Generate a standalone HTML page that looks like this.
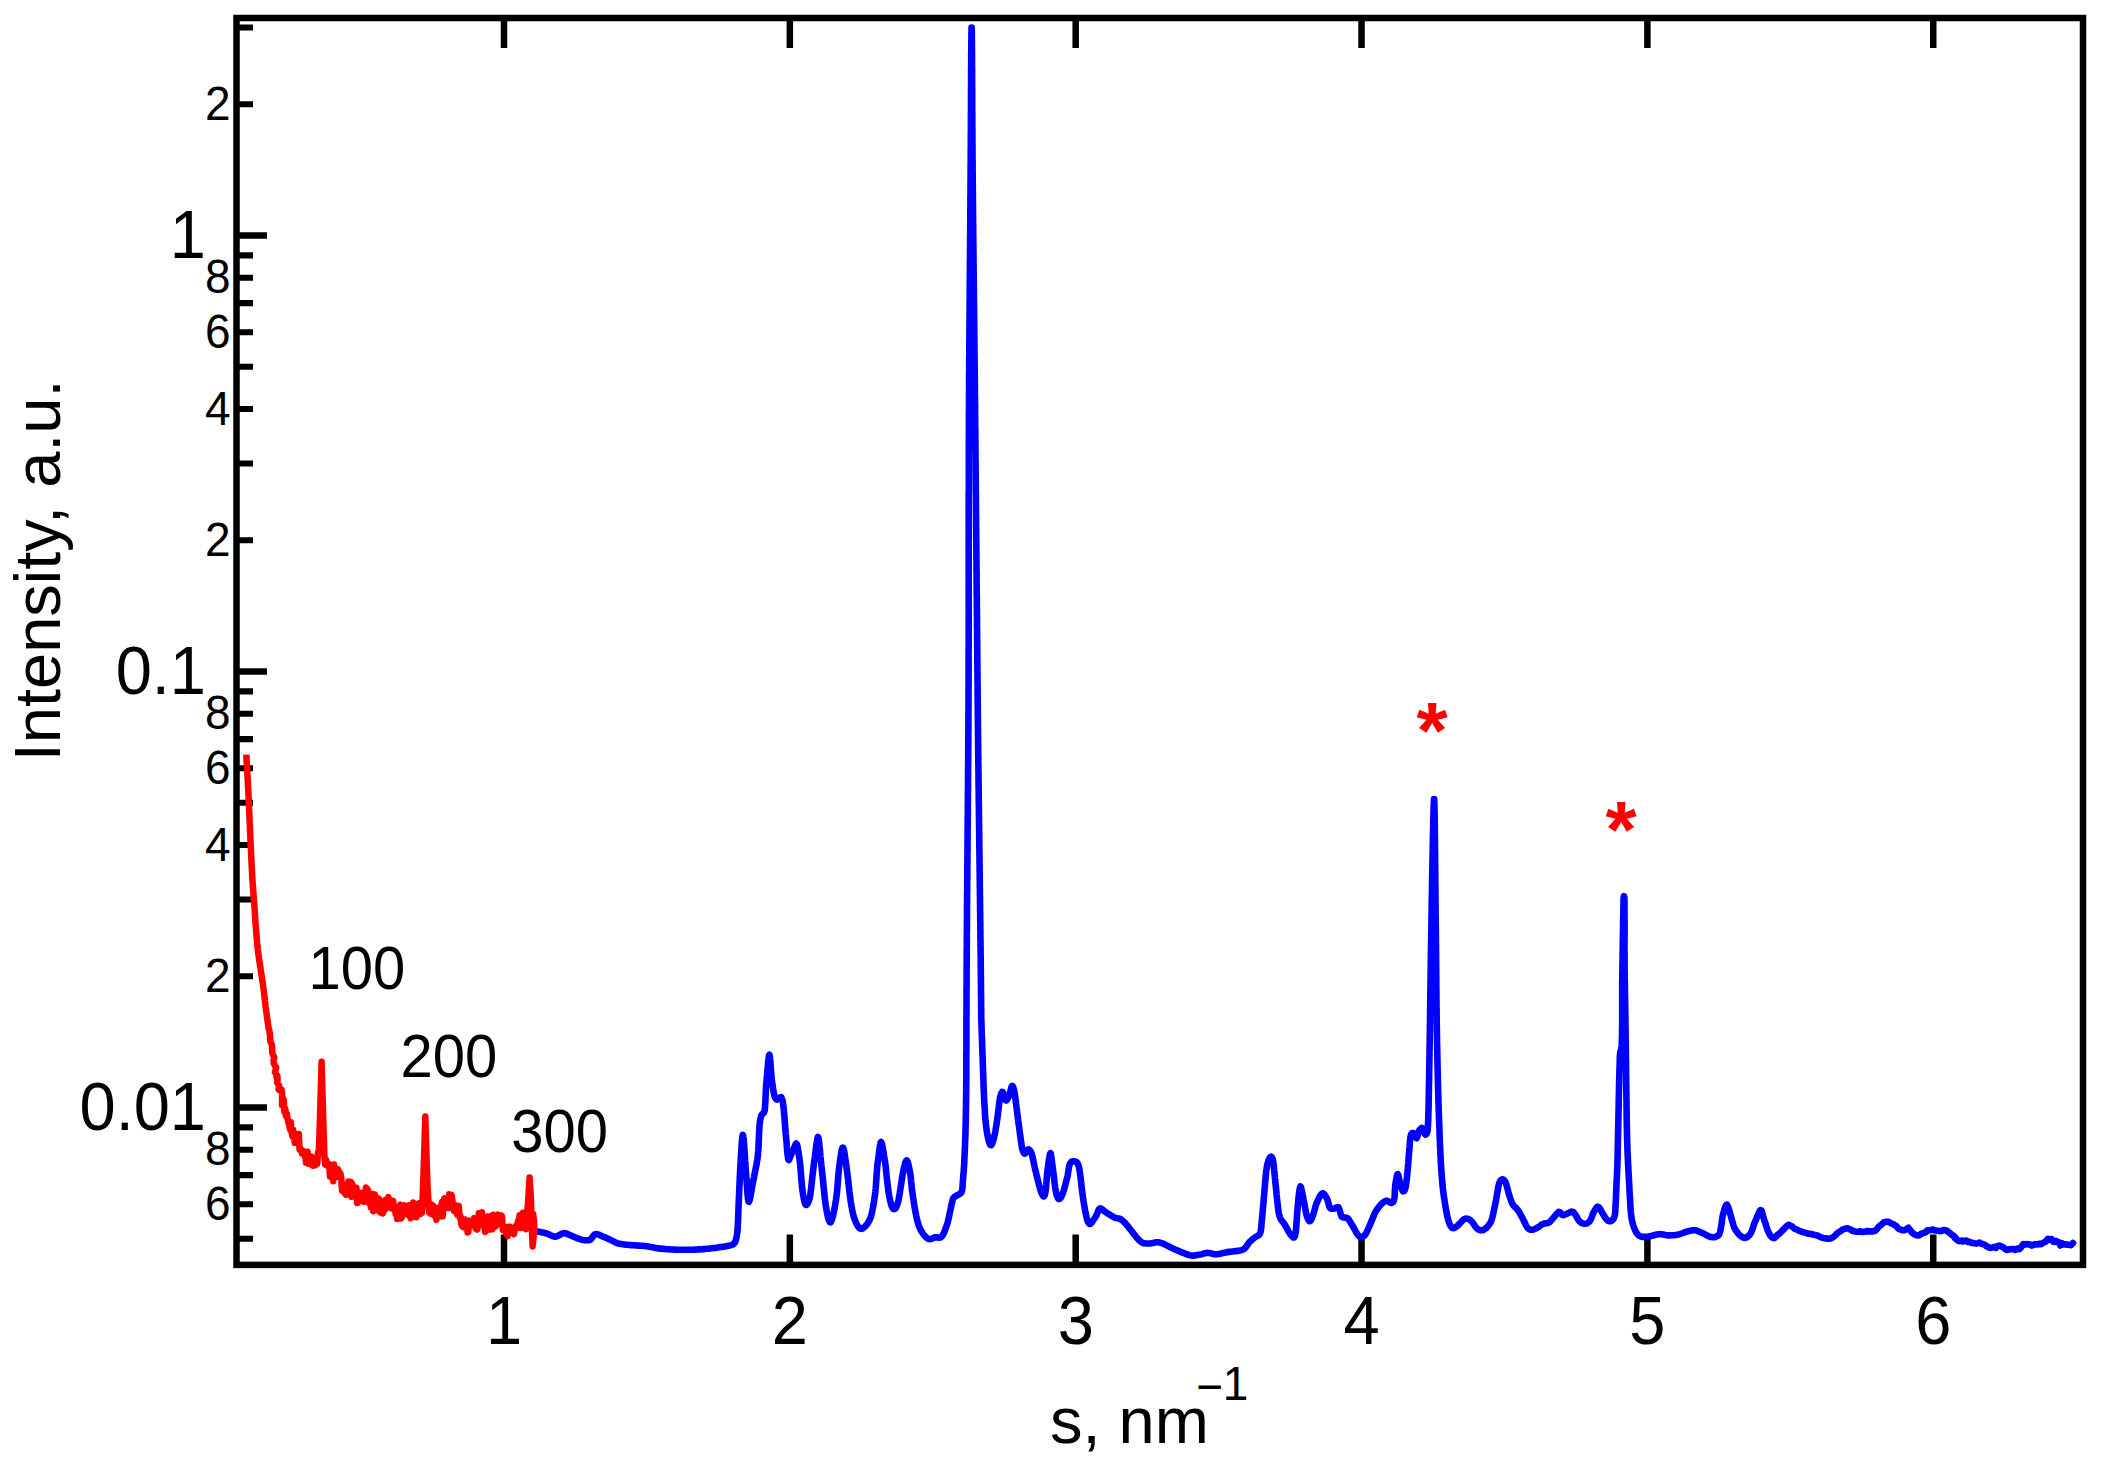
<!DOCTYPE html>
<html><head><meta charset="utf-8"><title>Intensity vs s</title>
<style>html,body{margin:0;padding:0;background:#fff}body{width:2102px;height:1462px;overflow:hidden}</style></head>
<body>
<svg width="2102" height="1462" viewBox="0 0 2102 1462" style="display:block" font-family="'Liberation Sans', Arial, sans-serif">
<rect width="2102" height="1462" fill="#fff"/>
<path d="M504.00 18 V48 M504.00 1264.9 V1234.5 M789.85 18 V48 M789.85 1264.9 V1234.5 M1075.70 18 V48 M1075.70 1264.9 V1234.5 M1361.55 18 V48 M1361.55 1264.9 V1234.5 M1647.40 18 V48 M1647.40 1264.9 V1234.5 M1933.25 18 V48 M1933.25 1264.9 V1234.5" stroke="#000" stroke-width="6.5" fill="none"/>
<path d="M236.5 104.25 H253 M236.5 27.48 H253 M236.5 540.25 H253 M236.5 463.48 H253 M236.5 409.00 H253 M236.5 366.75 H253 M236.5 332.23 H253 M236.5 303.04 H253 M236.5 277.75 H253 M236.5 255.45 H253 M236.5 976.25 H253 M236.5 899.48 H253 M236.5 845.00 H253 M236.5 802.75 H253 M236.5 768.23 H253 M236.5 739.04 H253 M236.5 713.75 H253 M236.5 691.45 H253 M236.5 1238.75 H253 M236.5 1204.23 H253 M236.5 1175.04 H253 M236.5 1149.75 H253 M236.5 1127.45 H253" stroke="#000" stroke-width="6.2" fill="none"/>
<path d="M236.5 235.50 H267 M236.5 671.50 H267 M236.5 1107.50 H267" stroke="#000" stroke-width="6.5" fill="none"/>
<path d="M534.0 1231.0L535.2 1231.2L537.1 1231.5L538.8 1231.8L540.5 1232.1L542.3 1232.4L544.0 1232.8L545.7 1233.2L547.1 1233.6L548.6 1234.2L550.0 1234.9L551.4 1235.6L552.9 1236.2L554.3 1236.6L555.8 1236.6L557.4 1236.1L559.0 1235.3L560.7 1234.3L562.4 1233.5L563.9 1233.1L565.4 1233.2L567.0 1233.8L568.4 1234.4L569.8 1235.1L571.4 1235.8L572.8 1236.4L574.2 1236.9L575.6 1237.5L577.0 1238.1L578.4 1238.6L579.9 1239.2L581.5 1239.7L583.1 1240.0L584.8 1240.2L586.5 1240.2L588.0 1240.2L589.4 1240.1L590.7 1239.4L591.9 1237.9L593.1 1236.1L594.2 1234.7L595.4 1234.1L597.0 1234.2L598.7 1234.6L600.5 1235.4L601.8 1236.0L603.2 1236.7L604.7 1237.3L606.2 1237.9L607.7 1238.6L609.1 1239.2L610.5 1239.9L611.9 1240.6L613.2 1241.2L614.5 1241.9L615.9 1242.6L617.1 1243.1L618.4 1243.5L619.8 1243.8L621.3 1244.1L622.8 1244.3L624.5 1244.5L626.2 1244.7L627.6 1244.8L629.1 1245.0L630.7 1245.1L632.3 1245.2L633.9 1245.3L635.5 1245.4L637.1 1245.5L638.8 1245.6L640.4 1245.7L641.9 1245.8L643.5 1245.9L645.0 1246.1L646.6 1246.3L648.1 1246.5L649.5 1246.8L651.0 1247.1L652.4 1247.3L653.8 1247.6L655.4 1247.9L656.9 1248.2L658.6 1248.4L660.4 1248.6L662.0 1248.8L663.6 1248.9L665.2 1249.0L666.8 1249.2L668.4 1249.3L670.0 1249.4L671.5 1249.5L673.1 1249.5L674.7 1249.6L676.3 1249.7L677.9 1249.7L679.5 1249.8L681.1 1249.8L682.7 1249.8L684.3 1249.8L685.9 1249.8L687.5 1249.8L689.1 1249.8L690.7 1249.7L692.3 1249.7L693.9 1249.7L695.4 1249.6L697.0 1249.5L698.6 1249.4L700.2 1249.4L701.8 1249.2L703.4 1249.1L705.0 1249.0L706.7 1248.8L708.4 1248.7L710.1 1248.5L711.7 1248.3L713.2 1248.1L714.7 1247.9L716.2 1247.7L717.7 1247.5L719.2 1247.3L720.6 1247.1L722.1 1246.9L723.9 1246.6L725.5 1246.4L727.1 1246.1L728.6 1245.8L730.0 1245.4L731.3 1245.1L732.4 1244.7L733.7 1243.9L734.8 1242.6L735.6 1241.0L736.1 1239.2L736.3 1238.1L736.6 1236.9L736.8 1235.7L737.0 1234.5L737.2 1233.1L737.4 1231.5L737.5 1229.7L737.7 1227.8L737.8 1225.5L737.9 1223.9L737.9 1222.4L738.0 1220.8L738.1 1219.3L738.1 1217.7L738.2 1216.2L738.2 1214.6L738.3 1213.1L738.4 1211.5L738.4 1210.0L738.5 1208.4L738.5 1206.9L738.6 1205.3L738.7 1203.7L738.7 1202.2L738.8 1200.6L738.9 1199.1L738.9 1197.5L739.0 1196.0L739.1 1194.4L739.1 1192.9L739.2 1191.3L739.3 1189.7L739.3 1188.2L739.4 1186.6L739.5 1185.1L739.6 1183.5L739.6 1181.9L739.7 1180.4L739.8 1178.8L739.8 1177.3L739.9 1175.7L740.0 1174.2L740.0 1172.6L740.1 1171.0L740.2 1169.5L740.3 1167.9L740.4 1166.4L740.4 1164.8L740.5 1163.2L740.6 1161.7L740.7 1160.1L740.8 1158.6L740.9 1157.0L741.0 1155.0L741.2 1152.8L741.3 1150.6L741.4 1148.3L741.6 1146.1L741.7 1143.9L741.9 1141.9L742.0 1140.0L742.2 1138.4L742.4 1137.0L742.5 1135.9L742.7 1135.2L742.8 1134.9L743.0 1135.0L743.1 1135.4L743.2 1135.9L743.3 1136.7L743.5 1137.6L743.6 1138.6L743.7 1139.8L743.8 1141.1L743.9 1142.6L744.1 1144.1L744.2 1145.7L744.3 1147.4L744.4 1149.2L744.5 1151.0L744.6 1152.9L744.8 1154.7L744.9 1156.7L745.0 1158.6L745.1 1160.5L745.3 1162.4L745.4 1164.2L745.5 1166.1L745.6 1167.8L745.7 1169.5L745.9 1171.1L746.0 1172.7L746.1 1174.1L746.2 1175.9L746.4 1177.8L746.5 1179.8L746.7 1181.9L746.8 1184.1L747.0 1186.3L747.1 1188.5L747.3 1190.6L747.4 1192.6L747.6 1194.6L747.7 1196.3L747.9 1197.9L748.1 1199.3L748.3 1200.4L748.5 1201.2L748.7 1201.7L748.9 1201.8L749.1 1201.5L749.4 1200.7L749.7 1199.7L750.0 1198.5L750.3 1197.0L750.6 1195.4L750.9 1193.7L751.3 1191.9L751.6 1190.0L751.9 1188.1L752.3 1186.3L752.6 1184.4L752.9 1182.7L753.2 1181.2L753.5 1179.8L753.8 1178.3L754.1 1176.8L754.3 1175.4L754.6 1173.9L754.9 1172.4L755.2 1170.9L755.5 1169.4L755.8 1168.0L756.1 1166.5L756.4 1165.0L756.7 1163.4L756.9 1161.9L757.2 1160.4L757.4 1159.2L757.6 1157.9L757.7 1156.5L757.9 1155.0L758.0 1153.5L758.1 1151.9L758.3 1150.3L758.4 1148.7L758.5 1147.0L758.6 1145.3L758.6 1143.6L758.7 1141.9L758.8 1140.2L758.9 1138.5L758.9 1136.8L759.0 1135.1L759.1 1133.5L759.1 1131.9L759.2 1130.4L759.3 1129.0L759.4 1127.6L759.5 1126.2L759.6 1125.0L759.7 1123.9L759.8 1122.8L760.1 1120.7L760.4 1119.0L760.7 1117.6L761.1 1116.3L761.5 1115.0L762.5 1113.8L763.7 1112.9L764.6 1110.8L764.7 1109.6L764.9 1108.3L765.0 1107.0L765.1 1105.6L765.2 1104.2L765.3 1102.6L765.4 1101.1L765.5 1099.5L765.5 1097.9L765.6 1096.2L765.7 1094.6L765.8 1092.9L765.8 1091.2L765.9 1089.5L766.0 1087.9L766.1 1086.2L766.2 1084.6L766.3 1083.0L766.5 1081.4L766.6 1079.9L766.8 1078.2L766.9 1076.3L767.1 1074.5L767.2 1072.6L767.4 1070.6L767.6 1068.7L767.7 1066.8L767.9 1065.0L768.1 1063.2L768.2 1061.6L768.4 1060.1L768.6 1058.7L768.7 1057.4L768.9 1056.4L769.0 1055.6L769.2 1055.0L769.4 1054.8L769.5 1055.1L769.7 1055.8L769.9 1056.9L770.0 1058.3L770.2 1060.0L770.3 1061.9L770.5 1064.0L770.7 1066.1L770.8 1068.4L771.0 1070.6L771.1 1072.8L771.3 1074.9L771.5 1076.8L771.6 1078.5L771.8 1079.9L772.0 1081.5L772.2 1083.2L772.5 1084.8L772.7 1086.4L773.0 1088.0L773.2 1089.6L773.5 1091.1L773.8 1092.6L774.0 1094.0L774.3 1095.4L775.0 1097.4L775.9 1098.8L776.9 1099.6L778.3 1099.0L780.0 1097.4L781.2 1097.1L781.6 1097.9L782.0 1098.9L782.4 1100.1L782.7 1101.5L783.0 1103.2L783.2 1105.0L783.5 1106.9L783.7 1109.1L783.8 1110.5L784.0 1112.0L784.1 1113.5L784.2 1115.0L784.4 1116.5L784.5 1118.1L784.6 1119.6L784.7 1121.2L784.9 1122.8L785.0 1124.4L785.1 1126.0L785.2 1127.6L785.3 1129.1L785.5 1130.7L785.6 1132.3L785.7 1133.8L785.9 1135.4L786.0 1136.9L786.2 1138.4L786.3 1139.9L786.5 1141.8L786.7 1144.0L786.8 1146.2L787.0 1148.6L787.2 1150.9L787.4 1153.1L787.6 1155.1L787.9 1156.9L788.1 1158.4L788.3 1159.5L788.6 1160.1L788.9 1160.1L789.2 1159.6L789.8 1158.1L790.4 1156.6L791.0 1155.0L791.6 1153.4L792.3 1151.9L793.0 1150.4L793.7 1148.8L794.3 1147.3L795.0 1145.7L795.7 1144.2L796.2 1143.6L796.7 1144.0L797.2 1145.2L797.6 1147.0L798.0 1149.3L798.4 1151.9L798.8 1154.5L799.2 1157.0L799.4 1158.4L799.6 1159.9L799.8 1161.4L800.0 1162.9L800.1 1164.4L800.3 1166.0L800.4 1167.6L800.6 1169.2L800.7 1170.8L800.8 1172.5L801.0 1174.1L801.1 1175.8L801.2 1177.4L801.3 1179.0L801.5 1180.6L801.6 1182.2L801.8 1183.8L801.9 1185.4L802.1 1186.9L802.2 1188.4L802.4 1189.9L802.6 1191.3L802.9 1193.5L803.3 1195.6L803.6 1197.7L804.0 1199.6L804.4 1201.3L804.8 1202.7L805.2 1203.9L805.6 1204.6L806.0 1205.0L806.6 1204.9L807.2 1204.2L807.9 1203.0L808.6 1201.4L809.3 1199.4L809.9 1197.2L810.3 1194.7L810.5 1193.2L810.7 1191.7L810.9 1190.1L811.1 1188.6L811.3 1187.1L811.4 1185.5L811.6 1184.0L811.8 1182.5L811.9 1180.9L812.1 1179.4L812.3 1177.9L812.4 1176.3L812.6 1174.8L812.8 1173.2L812.9 1171.7L813.1 1170.2L813.3 1168.7L813.5 1167.1L813.7 1165.6L813.9 1164.0L814.1 1162.4L814.3 1160.8L814.5 1159.1L814.8 1157.5L815.0 1155.8L815.2 1154.1L815.4 1152.5L815.6 1150.9L815.8 1149.3L816.0 1147.7L816.2 1146.2L816.4 1144.7L816.6 1143.3L816.9 1141.9L817.1 1140.6L817.3 1139.3L817.5 1138.2L817.7 1137.4L817.9 1137.0L818.1 1137.2L818.4 1137.8L818.6 1138.7L818.8 1140.0L819.0 1141.6L819.2 1143.4L819.4 1145.4L819.7 1147.6L819.9 1149.9L820.1 1152.3L820.3 1154.7L820.5 1157.1L820.8 1159.4L821.0 1161.6L821.2 1163.7L821.4 1165.6L821.6 1167.1L821.7 1168.6L821.9 1170.1L822.1 1171.6L822.2 1173.1L822.4 1174.6L822.6 1176.1L822.7 1177.7L822.9 1179.2L823.0 1180.7L823.2 1182.3L823.3 1183.8L823.5 1185.3L823.6 1186.9L823.8 1188.4L823.9 1190.0L824.1 1191.5L824.2 1193.0L824.4 1194.5L824.6 1196.1L824.7 1197.6L824.9 1199.1L825.1 1200.6L825.3 1202.1L825.5 1203.5L825.7 1205.0L826.1 1207.4L826.5 1209.8L826.9 1212.2L827.4 1214.5L827.8 1216.6L828.3 1218.5L828.9 1220.1L829.4 1221.4L829.9 1222.1L830.3 1222.4L830.8 1222.1L831.2 1221.5L831.5 1220.6L831.9 1219.6L832.3 1218.5L832.6 1217.2L833.0 1215.7L833.4 1214.2L833.7 1212.5L834.1 1210.8L834.4 1209.0L834.8 1207.2L835.1 1205.3L835.4 1203.5L835.7 1201.6L836.0 1199.8L836.2 1198.3L836.4 1196.8L836.6 1195.2L836.8 1193.7L837.0 1192.1L837.1 1190.6L837.3 1189.0L837.4 1187.4L837.5 1185.8L837.7 1184.3L837.8 1182.7L837.9 1181.1L838.0 1179.5L838.1 1178.0L838.3 1176.4L838.4 1174.8L838.5 1173.3L838.7 1171.7L838.8 1170.2L839.0 1168.6L839.2 1167.1L839.4 1165.6L839.7 1163.6L840.0 1161.5L840.2 1159.4L840.5 1157.4L840.8 1155.4L841.1 1153.6L841.4 1151.9L841.7 1150.5L841.9 1149.3L842.2 1148.4L842.5 1147.8L842.8 1147.6L843.1 1147.8L843.4 1148.4L843.7 1149.3L844.0 1150.5L844.3 1151.9L844.5 1153.6L844.8 1155.4L845.1 1157.4L845.4 1159.4L845.7 1161.5L846.0 1163.6L846.3 1165.6L846.5 1167.1L846.7 1168.6L846.9 1170.2L847.1 1171.8L847.3 1173.3L847.5 1174.9L847.7 1176.5L847.9 1178.1L848.1 1179.7L848.3 1181.3L848.4 1182.9L848.6 1184.5L848.8 1186.1L849.0 1187.7L849.2 1189.2L849.3 1190.8L849.5 1192.4L849.7 1193.9L849.9 1195.4L850.1 1196.9L850.3 1198.4L850.5 1199.8L850.7 1201.5L851.0 1203.1L851.2 1204.8L851.5 1206.4L851.8 1207.9L852.1 1209.5L852.4 1211.0L852.7 1212.5L853.0 1213.9L853.4 1215.3L853.8 1216.7L854.2 1218.1L854.7 1219.5L855.2 1220.8L855.7 1222.1L856.8 1224.4L857.9 1226.3L859.0 1227.7L860.2 1228.6L861.3 1228.9L862.6 1228.5L863.8 1227.6L865.1 1226.4L866.3 1225.1L867.4 1223.7L868.4 1222.2L869.4 1220.4L870.0 1219.1L870.5 1217.7L871.0 1216.3L871.4 1214.8L871.8 1213.2L872.1 1211.6L872.5 1210.0L872.8 1208.4L873.1 1207.0L873.3 1205.5L873.6 1204.1L873.8 1202.6L874.1 1201.1L874.3 1199.5L874.5 1198.0L874.8 1196.3L875.0 1194.7L875.2 1193.0L875.4 1191.3L875.5 1190.0L875.7 1188.6L875.8 1187.2L875.9 1185.8L876.0 1184.3L876.1 1182.7L876.2 1181.2L876.3 1179.6L876.4 1178.0L876.5 1176.4L876.6 1174.7L876.7 1173.1L876.9 1171.5L877.0 1169.8L877.1 1168.2L877.3 1166.6L877.4 1165.0L877.6 1163.4L877.8 1161.9L878.0 1160.4L878.3 1158.4L878.6 1156.2L878.9 1154.0L879.1 1151.8L879.4 1149.6L879.7 1147.6L880.0 1145.8L880.3 1144.3L880.5 1143.1L880.8 1142.4L881.1 1142.1L881.4 1142.5L881.7 1143.3L882.0 1144.3L882.2 1145.5L882.5 1146.9L882.8 1148.3L883.1 1150.0L883.4 1151.6L883.7 1153.4L883.9 1155.2L884.2 1156.9L884.5 1158.7L884.8 1160.4L885.1 1162.0L885.3 1163.6L885.5 1165.2L885.7 1166.8L885.9 1168.4L886.0 1170.0L886.2 1171.6L886.4 1173.2L886.5 1174.8L886.7 1176.4L886.8 1177.9L887.0 1179.5L887.2 1181.1L887.4 1182.7L887.6 1184.3L887.8 1186.0L888.0 1187.6L888.2 1189.2L888.4 1190.8L888.6 1192.4L888.8 1193.9L889.1 1195.5L889.4 1197.1L889.7 1198.6L890.0 1200.2L890.4 1201.7L890.8 1203.3L891.6 1205.9L892.5 1207.7L893.4 1208.9L894.3 1209.2L895.2 1208.7L896.0 1207.6L896.9 1205.7L897.7 1203.3L898.1 1201.8L898.5 1200.2L898.8 1198.6L899.1 1197.0L899.4 1195.4L899.7 1193.8L899.9 1192.2L900.1 1190.6L900.4 1189.0L900.6 1187.4L900.9 1185.9L901.1 1184.4L901.4 1182.8L901.6 1181.2L901.8 1179.7L902.1 1178.1L902.3 1176.6L902.5 1175.1L902.8 1173.5L903.1 1172.0L903.4 1170.5L903.7 1169.0L904.2 1167.0L904.7 1165.1L905.1 1163.4L905.6 1161.9L906.1 1160.9L906.6 1160.4L907.1 1160.6L907.5 1161.5L908.0 1162.8L908.4 1164.5L908.9 1166.5L909.3 1168.6L909.7 1170.7L910.0 1172.3L910.2 1173.9L910.5 1175.5L910.7 1177.1L910.9 1178.7L911.0 1180.3L911.2 1182.0L911.3 1183.6L911.5 1185.2L911.7 1186.7L911.8 1188.3L912.0 1189.8L912.2 1191.3L912.4 1192.9L912.7 1194.4L912.9 1196.0L913.1 1197.6L913.4 1199.1L913.6 1200.7L913.8 1202.2L914.1 1203.8L914.3 1205.3L914.6 1206.9L914.8 1208.4L915.1 1210.0L915.4 1211.6L915.7 1213.1L916.0 1214.7L916.3 1216.2L916.7 1217.8L917.0 1219.3L917.4 1220.8L917.8 1222.3L918.2 1223.8L918.7 1225.5L919.4 1227.2L920.0 1228.7L920.8 1230.1L921.6 1231.4L922.5 1232.8L923.4 1234.1L924.5 1235.6L925.7 1236.9L926.9 1238.0L928.1 1238.8L929.4 1239.2L930.9 1239.0L932.4 1238.4L933.9 1237.7L935.4 1237.2L937.2 1237.4L938.9 1237.8L940.5 1237.5L941.6 1236.6L942.6 1235.4L943.4 1234.0L944.1 1232.4L944.8 1230.7L945.3 1229.3L945.9 1227.8L946.4 1226.4L946.9 1224.9L947.4 1223.5L947.8 1222.0L948.2 1220.4L948.5 1218.9L948.9 1217.4L949.2 1215.9L949.5 1214.4L949.8 1212.9L950.1 1211.4L950.5 1209.9L950.8 1208.4L951.1 1206.8L951.5 1205.1L951.8 1203.4L952.2 1201.8L952.5 1200.4L952.9 1199.1L953.3 1198.1L954.8 1196.6L956.8 1195.5L958.3 1194.7L959.8 1193.9L961.0 1193.0L961.6 1192.1L962.0 1190.8L962.3 1189.2L962.5 1187.2L962.6 1185.1L962.8 1182.7L962.9 1181.3L963.0 1180.0L963.1 1178.6L963.2 1177.2L963.3 1175.8L963.4 1174.3L963.6 1172.9L963.7 1171.4L963.8 1169.9L963.9 1168.4L964.0 1166.9L964.1 1165.3L964.2 1163.7L964.3 1162.1L964.3 1160.4L964.4 1158.7L964.5 1157.0L964.6 1155.4L964.6 1153.9L964.7 1152.3L964.8 1150.8L964.8 1149.2L964.9 1147.7L965.0 1146.1L965.0 1144.6L965.1 1143.0L965.1 1141.5L965.2 1139.9L965.3 1138.3L965.3 1136.8L965.4 1135.2L965.4 1133.7L965.5 1132.1L965.5 1130.6L965.5 1129.0L965.6 1127.5L965.6 1125.9L965.7 1124.4L965.7 1122.8L965.7 1121.2L965.8 1119.7L965.8 1118.1L965.8 1116.6L965.8 1115.0L965.9 1113.5L965.9 1111.9L965.9 1110.3L966.0 1108.8L966.0 1107.2L966.0 1105.7L966.0 1104.1L966.0 1102.5L966.1 1101.0L966.1 1099.4L966.1 1097.9L966.1 1096.3L966.1 1094.7L966.2 1093.2L966.2 1091.6L966.2 1090.1L966.2 1088.5L966.2 1087.6L966.2 1086.6L966.2 1085.7L966.2 1084.8L966.2 1083.9L966.2 1082.9L966.3 1082.0L966.3 1081.1L966.3 1080.1L966.3 1079.2L966.3 1078.2L966.3 1077.3L966.3 1076.3L966.3 1075.3L966.3 1074.3L966.3 1073.3L966.3 1072.3L966.3 1071.2L966.3 1070.2L966.3 1069.1L966.3 1068.0L966.3 1066.9L966.3 1065.7L966.3 1064.6L966.3 1063.4L966.3 1062.2L966.3 1060.9L966.3 1059.7L966.3 1058.4L966.3 1057.1L966.3 1055.7L966.3 1054.3L966.3 1052.9L966.4 1051.4L966.4 1049.9L966.4 1048.4L966.4 1046.8L966.4 1045.2L966.4 1043.6L966.4 1041.9L966.4 1040.1L966.4 1038.3L966.4 1036.5L966.4 1034.6L966.4 1032.7L966.4 1030.7L966.4 1028.7L966.4 1026.6L966.4 1024.5L966.4 1022.3L966.4 1020.1L966.4 1017.8L966.4 1015.4L966.5 1013.0L966.5 1010.5L966.5 1008.0L966.5 1005.4L966.5 1002.7L966.5 1000.0L966.5 998.5L966.5 997.0L966.5 995.5L966.5 994.0L966.5 992.5L966.5 991.0L966.5 989.5L966.5 988.0L966.6 986.5L966.6 985.0L966.6 983.5L966.6 982.0L966.6 980.5L966.6 979.0L966.6 977.5L966.6 976.0L966.6 974.5L966.6 973.0L966.6 971.5L966.6 970.0L966.6 968.5L966.6 967.0L966.7 965.5L966.7 964.0L966.7 962.5L966.7 961.0L966.7 959.5L966.7 958.0L966.7 956.5L966.7 955.0L966.7 953.5L966.7 952.0L966.7 950.5L966.8 949.0L966.8 947.5L966.8 946.0L966.8 944.5L966.8 943.0L966.8 941.5L966.8 940.0L966.8 938.5L966.8 937.0L966.8 935.5L966.8 934.0L966.9 932.5L966.9 931.0L966.9 929.5L966.9 928.0L966.9 926.5L966.9 925.0L966.9 923.5L966.9 922.0L966.9 920.5L967.0 919.0L967.0 917.5L967.0 916.0L967.0 914.5L967.0 913.0L967.0 911.5L967.0 910.0L967.0 908.5L967.0 907.0L967.0 905.5L967.1 904.0L967.1 902.5L967.1 901.0L967.1 899.5L967.1 898.0L967.1 896.5L967.1 895.0L967.1 893.5L967.1 892.0L967.2 890.5L967.2 889.0L967.2 887.5L967.2 886.0L967.2 884.5L967.2 883.0L967.2 881.5L967.2 880.0L967.3 878.5L967.3 877.0L967.3 875.5L967.3 874.0L967.3 872.5L967.3 871.0L967.3 869.5L967.3 868.0L967.3 866.5L967.4 865.0L967.4 863.5L967.4 862.0L967.4 860.5L967.4 859.0L967.4 857.5L967.4 856.0L967.4 854.5L967.5 853.0L967.5 851.5L967.5 850.0L967.5 848.5L967.5 847.0L967.5 845.5L967.5 844.0L967.5 842.5L967.6 841.0L967.6 839.5L967.6 838.0L967.6 836.5L967.6 835.0L967.6 833.5L967.6 832.0L967.6 830.5L967.6 829.0L967.7 827.5L967.7 826.0L967.7 824.5L967.7 823.0L967.7 821.5L967.7 820.0L967.7 818.5L967.7 817.0L967.8 815.5L967.8 814.0L967.8 812.5L967.8 811.0L967.8 809.5L967.8 808.0L967.8 806.5L967.8 805.0L967.8 803.5L967.9 802.0L967.9 800.5L967.9 799.0L967.9 797.5L967.9 796.0L967.9 794.5L967.9 793.0L967.9 791.5L968.0 790.0L968.0 788.5L968.0 787.0L968.0 785.5L968.0 784.0L968.0 782.5L968.0 781.0L968.0 779.5L968.0 778.0L968.1 776.5L968.1 775.0L968.1 773.5L968.1 772.0L968.1 770.5L968.1 769.0L968.1 767.5L968.1 766.0L968.1 764.5L968.1 763.0L968.2 761.5L968.2 760.0L968.2 758.5L968.2 757.0L968.2 755.5L968.2 754.0L968.2 752.5L968.2 751.0L968.2 749.5L968.2 748.0L968.3 746.5L968.3 745.0L968.3 743.5L968.3 742.0L968.3 740.5L968.3 739.0L968.3 737.5L968.3 736.0L968.3 734.5L968.3 733.0L968.3 731.5L968.4 730.0L968.4 728.5L968.4 727.0L968.4 725.5L968.4 724.0L968.4 722.5L968.4 721.0L968.4 719.5L968.4 718.0L968.4 716.5L968.4 715.0L968.4 713.5L968.4 712.0L968.5 710.5L968.5 709.0L968.5 707.5L968.5 706.0L968.5 704.5L968.5 703.0L968.5 701.5L968.5 700.0L968.5 698.5L968.5 697.0L968.5 695.5L968.5 694.0L968.5 692.5L968.5 691.0L968.5 689.5L968.5 688.0L968.6 686.5L968.6 685.0L968.6 683.5L968.6 682.0L968.6 680.5L968.6 679.0L968.6 677.5L968.6 676.0L968.6 674.5L968.6 673.0L968.6 671.5L968.6 670.0L968.6 668.5L968.6 667.0L968.6 665.5L968.6 664.0L968.6 662.5L968.6 661.0L968.6 659.5L968.6 658.0L968.6 656.5L968.6 655.0L968.6 653.5L968.6 652.0L968.6 650.5L968.7 649.0L968.7 647.5L968.7 646.0L968.7 644.5L968.7 643.0L968.7 641.5L968.7 640.0L968.7 638.5L968.7 637.0L968.7 635.5L968.7 634.0L968.7 632.5L968.7 631.0L968.7 629.5L968.7 628.0L968.7 626.5L968.7 625.0L968.7 623.5L968.7 622.0L968.7 620.5L968.7 619.0L968.7 617.5L968.7 616.0L968.7 614.5L968.7 613.0L968.7 611.5L968.7 610.0L968.7 608.5L968.7 607.0L968.7 605.5L968.7 604.0L968.7 602.5L968.7 601.0L968.7 599.5L968.7 598.0L968.7 596.5L968.7 595.0L968.7 593.5L968.7 592.0L968.7 590.5L968.7 589.0L968.7 587.5L968.7 586.0L968.7 584.5L968.7 583.0L968.7 581.5L968.7 580.0L968.7 578.5L968.7 577.0L968.7 575.5L968.7 574.0L968.7 572.5L968.7 571.0L968.7 569.5L968.7 568.0L968.7 566.5L968.7 565.0L968.7 563.5L968.7 562.0L968.7 560.5L968.7 559.0L968.7 557.5L968.7 556.0L968.7 554.5L968.7 553.0L968.7 551.5L968.7 550.0L968.7 548.5L968.7 547.0L968.7 545.5L968.7 544.0L968.7 542.5L968.7 541.0L968.7 539.5L968.7 538.0L968.7 536.5L968.7 535.0L968.7 533.5L968.7 532.0L968.7 530.5L968.7 529.0L968.7 527.5L968.7 526.0L968.7 524.5L968.7 523.0L968.7 521.5L968.7 520.0L968.7 518.5L968.7 517.0L968.7 515.5L968.7 514.0L968.7 512.5L968.7 511.0L968.7 509.5L968.7 508.0L968.7 506.5L968.7 505.0L968.7 503.5L968.7 502.0L968.7 500.5L968.7 499.0L968.7 497.5L968.7 496.0L968.7 494.5L968.7 493.0L968.8 491.5L968.8 490.0L968.8 488.5L968.8 487.0L968.8 485.5L968.8 484.0L968.8 482.5L968.8 481.0L968.8 479.5L968.8 478.0L968.8 476.5L968.8 475.0L968.8 473.5L968.8 472.0L968.8 470.5L968.8 469.0L968.8 467.5L968.8 466.0L968.8 464.5L968.8 463.0L968.8 461.5L968.8 460.0L968.8 458.5L968.8 457.0L968.8 455.5L968.8 454.0L968.8 452.5L968.8 451.0L968.8 449.5L968.8 448.0L968.8 446.5L968.8 445.0L968.8 443.5L968.8 442.0L968.8 440.5L968.8 439.0L968.9 437.5L968.9 436.0L968.9 434.5L968.9 433.0L968.9 431.5L968.9 430.0L968.9 428.5L968.9 427.0L968.9 425.5L968.9 424.0L968.9 422.5L968.9 421.0L968.9 419.5L968.9 418.0L968.9 416.5L968.9 415.0L968.9 413.5L968.9 412.0L969.0 410.5L969.0 409.0L969.0 407.5L969.0 406.0L969.0 404.5L969.0 403.0L969.0 401.5L969.0 400.0L969.0 398.5L969.0 397.0L969.0 395.5L969.0 394.0L969.0 392.5L969.0 391.0L969.1 389.5L969.1 388.0L969.1 386.5L969.1 385.0L969.1 383.5L969.1 382.0L969.1 380.5L969.1 379.0L969.1 377.5L969.1 376.0L969.1 374.5L969.1 373.0L969.2 371.5L969.2 370.0L969.2 368.5L969.2 367.0L969.2 365.5L969.2 364.0L969.2 362.5L969.2 361.0L969.2 359.5L969.2 358.0L969.2 356.5L969.3 355.0L969.3 353.5L969.3 352.0L969.3 350.5L969.3 349.0L969.3 347.5L969.3 346.0L969.3 344.5L969.3 343.0L969.3 341.5L969.4 340.0L969.4 338.5L969.4 337.0L969.4 335.5L969.4 334.0L969.4 332.5L969.4 331.0L969.4 329.5L969.4 328.0L969.5 326.5L969.5 325.0L969.5 323.5L969.5 322.0L969.5 320.5L969.5 319.0L969.5 317.5L969.5 316.0L969.5 314.5L969.6 313.0L969.6 311.5L969.6 310.0L969.6 308.5L969.6 307.0L969.6 305.5L969.6 304.0L969.6 302.5L969.6 301.0L969.7 299.5L969.7 298.0L969.7 296.5L969.7 295.0L969.7 293.5L969.7 292.0L969.7 290.5L969.7 289.0L969.7 287.5L969.8 286.0L969.8 284.5L969.8 283.0L969.8 281.5L969.8 280.0L969.8 278.5L969.8 277.0L969.8 275.5L969.8 274.0L969.9 272.5L969.9 271.0L969.9 269.5L969.9 268.0L969.9 266.5L969.9 265.0L969.9 263.5L969.9 262.0L970.0 260.5L970.0 259.0L970.0 257.5L970.0 256.0L970.0 254.5L970.0 253.0L970.0 251.5L970.0 250.0L970.0 248.5L970.1 247.0L970.1 245.5L970.1 244.0L970.1 242.5L970.1 241.0L970.1 239.5L970.1 238.0L970.1 236.5L970.1 235.0L970.2 233.5L970.2 232.0L970.2 230.5L970.2 229.0L970.2 227.5L970.2 226.0L970.2 224.5L970.2 223.0L970.3 221.5L970.3 220.0L970.3 218.5L970.3 217.0L970.3 215.5L970.3 214.0L970.3 212.5L970.3 211.0L970.3 209.5L970.4 208.0L970.4 206.5L970.4 205.0L970.4 203.5L970.4 202.0L970.4 200.5L970.4 199.0L970.4 197.5L970.4 196.0L970.5 194.5L970.5 193.0L970.5 191.5L970.5 190.0L970.5 188.5L970.5 187.0L970.5 185.5L970.5 184.0L970.5 182.5L970.5 181.0L970.6 179.5L970.6 178.0L970.6 176.5L970.6 175.0L970.6 173.5L970.6 172.0L970.6 170.5L970.6 169.0L970.6 167.5L970.6 166.0L970.7 164.5L970.7 163.0L970.7 161.5L970.7 160.0L970.7 158.5L970.7 157.0L970.7 155.5L970.7 154.0L970.7 152.5L970.7 151.0L970.7 149.5L970.8 148.0L970.8 146.5L970.8 145.0L970.8 143.5L970.8 142.0L970.8 140.5L970.8 139.0L970.8 137.5L970.8 136.0L970.8 134.5L970.8 133.0L970.9 131.5L970.9 130.0L970.9 128.5L970.9 127.0L970.9 125.5L970.9 124.0L970.9 122.5L970.9 121.0L970.9 119.5L970.9 118.0L970.9 116.5L970.9 115.0L970.9 113.5L970.9 112.0L971.0 110.5L971.0 109.0L971.0 107.5L971.0 106.0L971.0 104.5L971.0 103.0L971.0 101.5L971.0 100.0L971.0 97.0L971.0 94.0L971.0 91.1L971.0 88.2L971.1 85.5L971.1 82.8L971.1 80.1L971.1 77.6L971.1 75.1L971.1 72.6L971.1 70.2L971.1 67.9L971.2 65.7L971.2 63.5L971.2 61.4L971.2 59.4L971.2 57.4L971.2 55.5L971.2 53.6L971.2 51.8L971.3 50.1L971.3 48.4L971.3 46.8L971.3 45.3L971.3 43.8L971.3 42.4L971.3 41.1L971.4 39.8L971.4 38.6L971.4 37.5L971.4 36.4L971.4 35.4L971.4 34.4L971.4 33.5L971.4 32.7L971.5 31.9L971.5 31.2L971.5 30.6L971.5 30.0L971.5 29.5L971.5 29.0L971.5 28.6L971.5 28.3L971.6 28.0L971.6 27.8L971.6 27.6L971.6 27.5L971.6 27.5L971.6 27.5L971.6 27.6L971.6 27.8L971.6 28.0L971.7 28.3L971.7 28.6L971.7 29.0L971.7 29.5L971.7 30.0L971.7 30.6L971.7 31.2L971.8 31.9L971.8 32.7L971.8 33.5L971.8 34.4L971.8 35.4L971.8 36.4L971.8 37.5L971.8 38.6L971.9 39.8L971.9 41.1L971.9 42.4L971.9 43.8L971.9 45.3L971.9 46.8L971.9 48.4L971.9 50.1L972.0 51.8L972.0 53.6L972.0 55.5L972.0 57.4L972.0 59.4L972.0 61.4L972.0 63.5L972.0 65.7L972.1 67.9L972.1 70.2L972.1 72.6L972.1 75.1L972.1 77.6L972.1 80.1L972.1 82.8L972.1 85.5L972.2 88.2L972.2 91.1L972.2 94.0L972.2 97.0L972.2 100.0L972.2 101.5L972.2 103.0L972.2 104.5L972.2 106.0L972.2 107.5L972.2 109.0L972.2 110.5L972.3 112.0L972.3 113.5L972.3 115.0L972.3 116.5L972.3 118.0L972.3 119.5L972.3 121.0L972.3 122.5L972.3 124.0L972.3 125.5L972.3 127.0L972.3 128.5L972.4 130.0L972.4 131.5L972.4 133.0L972.4 134.5L972.4 136.0L972.4 137.5L972.4 139.0L972.4 140.5L972.4 142.0L972.4 143.5L972.5 145.0L972.5 146.5L972.5 148.0L972.5 149.5L972.5 151.0L972.5 152.5L972.5 154.0L972.5 155.5L972.5 157.0L972.5 158.5L972.6 160.0L972.6 161.5L972.6 163.0L972.6 164.5L972.6 166.0L972.6 167.5L972.6 169.0L972.6 170.5L972.7 172.0L972.7 173.5L972.7 175.0L972.7 176.5L972.7 178.0L972.7 179.5L972.7 181.0L972.7 182.5L972.8 184.0L972.8 185.5L972.8 187.0L972.8 188.5L972.8 190.0L972.8 191.5L972.8 193.0L972.9 194.5L972.9 196.0L972.9 197.5L972.9 199.0L972.9 200.5L972.9 202.0L972.9 203.5L973.0 205.0L973.0 206.5L973.0 208.0L973.0 209.5L973.0 211.0L973.0 212.5L973.0 214.0L973.1 215.5L973.1 217.0L973.1 218.5L973.1 220.0L973.1 221.5L973.1 223.0L973.1 224.5L973.2 226.0L973.2 227.5L973.2 229.0L973.2 230.5L973.2 232.0L973.2 233.5L973.3 235.0L973.3 236.5L973.3 238.0L973.3 239.5L973.3 241.0L973.3 242.5L973.3 244.0L973.4 245.5L973.4 247.0L973.4 248.5L973.4 250.0L973.4 251.5L973.4 253.0L973.5 254.5L973.5 256.0L973.5 257.5L973.5 259.0L973.5 260.5L973.5 262.0L973.6 263.5L973.6 265.0L973.6 266.5L973.6 268.0L973.6 269.5L973.6 271.0L973.7 272.5L973.7 274.0L973.7 275.5L973.7 277.0L973.7 278.5L973.7 280.0L973.8 281.5L973.8 283.0L973.8 284.5L973.8 286.0L973.8 287.5L973.8 289.0L973.9 290.5L973.9 292.0L973.9 293.5L973.9 295.0L973.9 296.5L973.9 298.0L974.0 299.5L974.0 301.0L974.0 302.5L974.0 304.0L974.0 305.5L974.0 307.0L974.1 308.5L974.1 310.0L974.1 311.5L974.1 313.0L974.1 314.5L974.1 316.0L974.2 317.5L974.2 319.0L974.2 320.5L974.2 322.0L974.2 323.5L974.2 325.0L974.3 326.5L974.3 328.0L974.3 329.5L974.3 331.0L974.3 332.5L974.3 334.0L974.3 335.5L974.4 337.0L974.4 338.5L974.4 340.0L974.4 341.5L974.4 343.0L974.4 344.5L974.5 346.0L974.5 347.5L974.5 349.0L974.5 350.5L974.5 352.0L974.5 353.5L974.6 355.0L974.6 356.5L974.6 358.0L974.6 359.5L974.6 361.0L974.6 362.5L974.7 364.0L974.7 365.5L974.7 367.0L974.7 368.5L974.7 370.0L974.7 371.5L974.7 373.0L974.8 374.5L974.8 376.0L974.8 377.5L974.8 379.0L974.8 380.5L974.8 382.0L974.8 383.5L974.9 385.0L974.9 386.5L974.9 388.0L974.9 389.5L974.9 391.0L974.9 392.5L974.9 394.0L975.0 395.5L975.0 397.0L975.0 398.5L975.0 400.0L975.0 401.5L975.0 403.0L975.0 404.5L975.1 406.0L975.1 407.5L975.1 409.0L975.1 410.5L975.1 412.0L975.1 413.5L975.1 415.0L975.1 416.5L975.2 418.0L975.2 419.5L975.2 421.0L975.2 422.5L975.2 424.0L975.2 425.5L975.2 427.0L975.3 428.5L975.3 430.0L975.3 431.5L975.3 433.0L975.3 434.5L975.3 436.0L975.3 437.5L975.4 439.0L975.4 440.5L975.4 442.0L975.4 443.5L975.4 445.0L975.4 446.5L975.4 448.0L975.4 449.5L975.5 451.0L975.5 452.5L975.5 454.0L975.5 455.5L975.5 457.0L975.5 458.5L975.5 460.0L975.6 461.5L975.6 463.0L975.6 464.5L975.6 466.0L975.6 467.5L975.6 469.0L975.6 470.5L975.7 472.0L975.7 473.5L975.7 475.0L975.7 476.5L975.7 478.0L975.7 479.5L975.7 481.0L975.7 482.5L975.8 484.0L975.8 485.5L975.8 487.0L975.8 488.5L975.8 490.0L975.8 491.5L975.8 493.0L975.9 494.5L975.9 496.0L975.9 497.5L975.9 499.0L975.9 500.5L975.9 502.0L975.9 503.5L975.9 505.0L976.0 506.5L976.0 508.0L976.0 509.5L976.0 511.0L976.0 512.5L976.0 514.0L976.0 515.5L976.1 517.0L976.1 518.5L976.1 520.0L976.1 521.5L976.1 523.0L976.1 524.5L976.1 526.0L976.1 527.5L976.2 529.0L976.2 530.5L976.2 532.0L976.2 533.5L976.2 535.0L976.2 536.5L976.2 538.0L976.3 539.5L976.3 541.0L976.3 542.5L976.3 544.0L976.3 545.5L976.3 547.0L976.3 548.5L976.4 550.0L976.4 551.5L976.4 553.0L976.4 554.5L976.4 556.0L976.4 557.5L976.4 559.0L976.4 560.5L976.5 562.0L976.5 563.5L976.5 565.0L976.5 566.5L976.5 568.0L976.5 569.5L976.5 571.0L976.6 572.5L976.6 574.0L976.6 575.5L976.6 577.0L976.6 578.5L976.6 580.0L976.6 581.5L976.6 583.0L976.7 584.5L976.7 586.0L976.7 587.5L976.7 589.0L976.7 590.5L976.7 592.0L976.7 593.5L976.8 595.0L976.8 596.5L976.8 598.0L976.8 599.5L976.8 601.0L976.8 602.5L976.8 604.0L976.8 605.5L976.9 607.0L976.9 608.5L976.9 610.0L976.9 611.5L976.9 613.0L976.9 614.5L976.9 616.0L977.0 617.5L977.0 619.0L977.0 620.5L977.0 622.0L977.0 623.5L977.0 625.0L977.0 626.5L977.0 628.0L977.1 629.5L977.1 631.0L977.1 632.5L977.1 634.0L977.1 635.5L977.1 637.0L977.1 638.5L977.2 640.0L977.2 641.5L977.2 643.0L977.2 644.5L977.2 646.0L977.2 647.5L977.2 649.0L977.3 650.5L977.3 652.0L977.3 653.5L977.3 655.0L977.3 656.5L977.3 658.0L977.3 659.5L977.3 661.0L977.4 662.5L977.4 664.0L977.4 665.5L977.4 667.0L977.4 668.5L977.4 670.0L977.4 671.5L977.5 673.0L977.5 674.5L977.5 676.0L977.5 677.5L977.5 679.0L977.5 680.5L977.5 682.0L977.6 683.5L977.6 685.0L977.6 686.5L977.6 688.0L977.6 689.5L977.6 691.0L977.6 692.5L977.6 694.0L977.7 695.5L977.7 697.0L977.7 698.5L977.7 700.0L977.7 701.5L977.7 703.0L977.7 704.5L977.8 706.0L977.8 707.5L977.8 709.0L977.8 710.5L977.8 712.0L977.8 713.5L977.8 715.0L977.9 716.5L977.9 718.0L977.9 719.5L977.9 721.0L977.9 722.5L977.9 724.0L977.9 725.5L978.0 727.0L978.0 728.5L978.0 730.0L978.0 731.5L978.0 733.0L978.0 734.5L978.1 736.0L978.1 737.5L978.1 739.0L978.1 740.5L978.1 742.0L978.1 743.5L978.1 745.0L978.2 746.5L978.2 748.0L978.2 749.5L978.2 751.0L978.2 752.5L978.2 754.0L978.3 755.5L978.3 757.0L978.3 758.5L978.3 760.0L978.3 761.5L978.3 763.0L978.4 764.5L978.4 766.0L978.4 767.5L978.4 769.0L978.4 770.5L978.4 772.0L978.5 773.5L978.5 775.0L978.5 776.5L978.5 778.0L978.5 779.5L978.5 781.0L978.6 782.5L978.6 784.0L978.6 785.5L978.6 787.0L978.6 788.5L978.7 790.0L978.7 791.5L978.7 793.0L978.7 794.5L978.7 796.0L978.7 797.5L978.8 799.0L978.8 800.5L978.8 802.0L978.8 803.5L978.8 805.0L978.9 806.5L978.9 808.0L978.9 809.5L978.9 811.0L978.9 812.5L978.9 814.0L979.0 815.5L979.0 817.0L979.0 818.5L979.0 820.0L979.0 821.5L979.1 823.0L979.1 824.5L979.1 826.0L979.1 827.5L979.1 829.0L979.1 830.5L979.2 832.0L979.2 833.5L979.2 835.0L979.2 836.5L979.2 838.0L979.3 839.5L979.3 841.0L979.3 842.5L979.3 844.0L979.3 845.5L979.3 847.0L979.4 848.5L979.4 850.0L979.4 851.5L979.4 853.0L979.4 854.5L979.5 856.0L979.5 857.5L979.5 859.0L979.5 860.5L979.5 862.0L979.5 863.5L979.6 865.0L979.6 866.5L979.6 868.0L979.6 869.5L979.6 871.0L979.7 872.5L979.7 874.0L979.7 875.5L979.7 877.0L979.7 878.5L979.8 880.0L979.8 881.5L979.8 883.0L979.8 884.5L979.8 886.0L979.8 887.5L979.9 889.0L979.9 890.5L979.9 892.0L979.9 893.5L979.9 895.0L980.0 896.5L980.0 898.0L980.0 899.5L980.0 901.0L980.0 902.5L980.0 904.0L980.1 905.5L980.1 907.0L980.1 908.5L980.1 910.0L980.1 911.5L980.2 913.0L980.2 914.5L980.2 916.0L980.2 917.5L980.2 919.0L980.2 920.5L980.3 922.0L980.3 923.5L980.3 925.0L980.3 926.5L980.3 928.0L980.3 929.5L980.4 931.0L980.4 932.5L980.4 934.0L980.4 935.5L980.4 937.0L980.4 938.5L980.5 940.0L980.5 941.5L980.5 943.0L980.5 944.5L980.5 946.0L980.6 947.5L980.6 949.0L980.6 950.5L980.6 952.0L980.6 953.5L980.6 955.0L980.7 956.5L980.7 958.0L980.7 959.5L980.7 961.0L980.7 962.5L980.7 964.0L980.7 965.5L980.8 967.0L980.8 968.5L980.8 970.0L980.8 971.5L980.8 973.0L980.8 974.5L980.9 976.0L980.9 977.5L980.9 979.0L980.9 980.5L980.9 982.0L980.9 983.5L981.0 985.0L981.0 986.5L981.0 988.0L981.0 989.5L981.0 991.0L981.0 992.5L981.0 994.0L981.1 995.5L981.1 997.0L981.1 998.5L981.1 1000.0L981.1 1005.3L981.2 1009.3L981.2 1012.2L981.2 1014.2L981.2 1015.5L981.2 1016.2L981.2 1016.5L981.2 1016.6L981.2 1016.7L981.2 1016.9L981.2 1017.4L981.2 1018.4L981.3 1020.0L981.4 1021.6L981.4 1023.1L981.5 1024.7L981.5 1026.2L981.6 1027.8L981.6 1029.4L981.7 1030.9L981.7 1032.5L981.8 1034.0L981.8 1035.6L981.9 1037.2L982.0 1038.7L982.0 1040.3L982.1 1041.8L982.1 1043.4L982.2 1044.9L982.2 1046.5L982.3 1048.1L982.3 1049.6L982.4 1051.2L982.4 1052.7L982.5 1054.3L982.6 1055.9L982.6 1057.4L982.7 1059.0L982.7 1060.5L982.8 1062.1L982.8 1063.6L982.9 1065.2L982.9 1066.7L983.0 1068.3L983.0 1069.9L983.1 1071.4L983.2 1073.0L983.2 1074.5L983.3 1076.1L983.3 1077.6L983.4 1079.2L983.4 1080.7L983.5 1082.3L983.5 1083.8L983.6 1085.4L983.6 1086.9L983.7 1088.5L983.8 1090.2L983.8 1091.9L983.9 1093.5L984.0 1095.2L984.0 1096.7L984.1 1098.3L984.2 1099.8L984.3 1101.3L984.3 1102.8L984.4 1104.3L984.5 1105.7L984.6 1107.1L984.7 1108.6L984.8 1110.0L984.8 1111.4L984.9 1112.8L985.0 1114.2L985.1 1115.9L985.2 1117.5L985.4 1119.2L985.5 1120.8L985.7 1122.3L985.8 1123.9L986.0 1125.4L986.2 1126.9L986.4 1128.4L986.6 1130.0L986.9 1131.5L987.1 1133.0L987.4 1134.9L987.8 1136.8L988.2 1138.6L988.6 1140.3L989.1 1141.8L989.5 1143.2L990.0 1144.3L990.5 1145.0L991.2 1145.1L991.9 1144.2L992.6 1142.5L993.3 1140.4L993.9 1138.2L994.2 1136.7L994.6 1135.1L994.9 1133.6L995.2 1132.1L995.5 1130.5L995.7 1129.0L996.0 1127.4L996.3 1125.8L996.5 1124.2L996.8 1122.6L997.0 1121.0L997.2 1119.5L997.4 1117.9L997.6 1116.4L997.8 1114.8L998.0 1113.2L998.2 1111.6L998.4 1110.0L998.6 1108.4L998.8 1106.8L999.0 1105.2L999.2 1103.6L999.4 1102.0L999.6 1100.5L1000.0 1098.1L1000.5 1096.0L1001.0 1094.3L1001.5 1092.9L1002.2 1091.9L1002.8 1092.1L1003.5 1093.8L1004.3 1096.2L1005.0 1098.6L1005.7 1100.3L1006.4 1100.5L1007.4 1099.1L1008.4 1097.4L1009.3 1095.4L1009.8 1093.8L1010.3 1091.9L1010.7 1089.9L1011.2 1088.1L1011.6 1086.7L1012.1 1085.9L1012.6 1086.0L1013.1 1087.0L1013.7 1088.6L1014.2 1090.7L1014.6 1093.0L1015.0 1095.4L1015.2 1097.0L1015.4 1098.5L1015.6 1100.1L1015.8 1101.7L1016.0 1103.3L1016.2 1104.9L1016.4 1106.5L1016.6 1108.1L1016.8 1109.7L1017.0 1111.2L1017.2 1112.8L1017.4 1114.4L1017.6 1115.9L1017.8 1117.5L1018.0 1119.1L1018.2 1120.7L1018.4 1122.3L1018.6 1123.8L1018.8 1125.4L1019.1 1127.0L1019.3 1128.6L1019.5 1130.1L1019.7 1131.7L1019.9 1133.2L1020.1 1134.7L1020.3 1136.4L1020.6 1138.1L1020.8 1139.6L1021.0 1141.1L1021.2 1142.5L1021.4 1143.9L1021.6 1145.3L1021.8 1146.7L1022.2 1148.8L1022.8 1150.7L1023.5 1152.3L1024.4 1153.6L1025.4 1153.4L1026.5 1151.6L1027.7 1149.8L1028.7 1149.3L1029.6 1150.2L1030.6 1151.4L1031.4 1153.1L1032.1 1155.3L1032.5 1156.8L1032.8 1158.3L1033.2 1159.9L1033.5 1161.4L1033.8 1162.9L1034.1 1164.5L1034.4 1166.0L1034.8 1167.6L1035.1 1169.1L1035.5 1170.7L1035.9 1172.2L1036.2 1173.8L1036.6 1175.3L1037.0 1176.9L1037.4 1178.4L1037.8 1180.0L1038.2 1181.6L1038.6 1183.1L1039.0 1184.7L1039.4 1186.3L1039.8 1187.8L1040.4 1189.8L1041.0 1191.7L1041.7 1193.4L1042.4 1194.8L1043.0 1195.9L1043.6 1196.4L1044.3 1196.1L1044.9 1194.6L1045.4 1192.3L1045.8 1189.5L1046.0 1188.0L1046.1 1186.4L1046.3 1184.8L1046.4 1183.3L1046.5 1181.7L1046.6 1180.1L1046.7 1178.5L1046.9 1177.0L1047.0 1175.4L1047.1 1173.8L1047.3 1172.3L1047.5 1170.7L1047.7 1169.0L1048.0 1167.3L1048.2 1165.6L1048.4 1163.8L1048.6 1162.1L1048.9 1160.4L1049.1 1158.8L1049.4 1157.3L1049.6 1155.9L1049.8 1154.7L1050.1 1153.6L1050.4 1153.1L1050.7 1153.4L1051.0 1154.5L1051.2 1156.2L1051.5 1158.3L1051.8 1160.6L1052.1 1163.0L1052.4 1165.3L1052.7 1167.3L1052.9 1168.8L1053.1 1170.4L1053.3 1172.0L1053.5 1173.6L1053.7 1175.2L1053.9 1176.8L1054.1 1178.4L1054.2 1180.0L1054.4 1181.6L1054.6 1183.2L1054.8 1184.7L1055.0 1186.3L1055.2 1187.8L1055.6 1189.9L1056.0 1192.0L1056.4 1194.0L1056.9 1195.7L1057.5 1197.2L1058.1 1198.3L1058.7 1199.0L1059.7 1198.9L1060.8 1197.6L1061.9 1195.5L1062.9 1193.0L1063.4 1191.5L1063.9 1189.9L1064.3 1188.4L1064.8 1186.8L1065.2 1185.3L1065.6 1183.7L1066.0 1182.2L1066.4 1180.6L1066.8 1179.1L1067.2 1177.6L1067.6 1176.0L1067.8 1174.5L1068.1 1172.9L1068.3 1171.4L1068.5 1169.8L1068.7 1168.3L1069.0 1166.8L1069.4 1165.4L1069.8 1163.9L1071.3 1161.8L1073.2 1161.3L1074.7 1161.3L1076.3 1161.8L1077.5 1163.0L1078.0 1164.2L1078.5 1165.5L1078.9 1166.9L1079.2 1168.4L1079.5 1170.1L1079.8 1172.0L1080.1 1174.1L1080.3 1175.7L1080.5 1177.3L1080.7 1178.8L1080.9 1180.4L1081.1 1182.0L1081.2 1183.6L1081.4 1185.2L1081.6 1186.8L1081.8 1188.4L1082.0 1190.0L1082.2 1191.5L1082.4 1193.1L1082.6 1194.7L1082.8 1196.3L1083.0 1197.9L1083.3 1199.4L1083.5 1201.0L1083.8 1202.6L1084.0 1204.2L1084.3 1205.8L1084.6 1207.3L1084.8 1208.9L1085.1 1210.5L1085.4 1212.1L1085.8 1213.6L1086.1 1215.2L1086.6 1217.5L1087.2 1219.8L1087.9 1221.8L1088.7 1223.2L1089.5 1224.0L1090.3 1223.8L1091.3 1222.8L1092.4 1221.5L1093.4 1220.1L1094.5 1218.5L1095.5 1217.0L1096.4 1215.4L1097.2 1213.4L1098.0 1211.3L1098.8 1209.6L1099.7 1208.5L1100.6 1208.4L1102.0 1209.2L1103.4 1210.3L1105.0 1211.6L1106.6 1212.7L1107.9 1213.6L1109.3 1214.4L1110.7 1215.3L1112.1 1216.2L1113.5 1217.0L1115.0 1217.7L1116.7 1218.1L1118.3 1218.4L1119.9 1218.8L1121.2 1219.5L1122.4 1220.5L1123.6 1221.5L1124.8 1222.8L1126.0 1224.1L1127.2 1225.5L1128.2 1226.7L1129.1 1227.9L1130.1 1229.2L1131.1 1230.4L1132.1 1231.6L1133.0 1232.9L1134.0 1234.1L1135.1 1235.5L1136.1 1236.8L1137.2 1238.1L1138.3 1239.4L1139.5 1240.6L1140.9 1241.8L1142.5 1242.8L1144.2 1243.3L1145.9 1243.5L1147.7 1243.5L1149.4 1243.5L1151.1 1243.3L1152.8 1243.0L1154.6 1242.6L1156.3 1242.3L1158.0 1242.3L1159.8 1242.6L1161.4 1243.0L1163.1 1243.6L1164.8 1244.4L1166.1 1245.1L1167.5 1245.8L1168.9 1246.6L1170.4 1247.3L1171.9 1248.0L1173.5 1248.8L1175.1 1249.5L1176.6 1250.1L1178.1 1250.8L1179.6 1251.4L1181.1 1252.1L1182.7 1252.7L1184.2 1253.3L1185.8 1253.9L1187.3 1254.5L1188.8 1255.0L1190.5 1255.4L1192.1 1255.6L1193.7 1255.6L1195.3 1255.4L1196.9 1255.1L1198.5 1254.8L1200.0 1254.6L1201.9 1254.2L1203.4 1253.7L1205.0 1253.2L1206.9 1252.9L1208.6 1252.9L1210.3 1253.2L1212.0 1253.7L1213.7 1254.1L1215.4 1254.3L1217.1 1254.3L1218.6 1254.1L1220.0 1253.7L1221.5 1253.4L1223.0 1253.0L1224.5 1252.7L1225.9 1252.4L1227.4 1252.1L1229.1 1251.9L1230.8 1251.7L1232.5 1251.5L1234.3 1251.3L1236.0 1251.1L1237.7 1250.9L1239.7 1250.6L1241.5 1250.1L1243.1 1249.5L1244.5 1248.6L1245.6 1247.5L1246.6 1246.1L1247.6 1244.6L1248.6 1243.1L1249.7 1241.8L1251.0 1240.7L1252.2 1239.6L1253.5 1238.5L1254.8 1237.5L1256.3 1236.6L1257.7 1235.9L1259.1 1234.9L1259.8 1233.9L1260.3 1232.7L1260.7 1231.3L1261.0 1229.7L1261.2 1228.0L1261.4 1226.1L1261.5 1224.1L1261.7 1222.1L1261.8 1220.6L1262.0 1219.0L1262.1 1217.4L1262.3 1215.9L1262.4 1214.3L1262.6 1212.7L1262.7 1211.1L1262.8 1209.5L1263.0 1207.9L1263.1 1206.3L1263.3 1204.7L1263.4 1203.1L1263.6 1201.4L1263.7 1199.8L1263.8 1198.3L1264.0 1196.9L1264.1 1195.4L1264.2 1193.8L1264.3 1192.3L1264.5 1190.8L1264.6 1189.2L1264.7 1187.7L1264.9 1186.2L1265.0 1184.6L1265.1 1183.1L1265.2 1181.6L1265.4 1180.0L1265.5 1178.5L1265.6 1177.0L1265.8 1175.6L1265.9 1174.1L1266.1 1172.2L1266.3 1170.4L1266.6 1168.7L1266.8 1167.2L1267.1 1165.7L1267.4 1164.4L1267.8 1163.0L1268.1 1161.7L1268.5 1160.4L1269.3 1158.4L1270.2 1157.1L1271.1 1156.7L1272.0 1157.4L1272.7 1159.2L1273.3 1162.1L1273.5 1163.6L1273.7 1165.2L1273.8 1166.7L1274.0 1168.2L1274.1 1169.8L1274.3 1171.4L1274.4 1173.0L1274.6 1174.6L1274.8 1176.2L1274.9 1177.8L1275.1 1179.4L1275.2 1181.0L1275.4 1182.7L1275.6 1184.2L1275.7 1185.7L1275.9 1187.2L1276.0 1188.7L1276.2 1190.2L1276.3 1191.7L1276.5 1193.3L1276.6 1194.8L1276.8 1196.4L1276.9 1197.9L1277.1 1199.4L1277.3 1200.9L1277.4 1202.4L1277.6 1203.8L1277.7 1205.3L1277.9 1206.7L1278.1 1208.6L1278.4 1210.4L1278.6 1212.1L1278.9 1213.6L1279.2 1215.0L1279.6 1216.4L1280.0 1217.6L1280.5 1218.7L1281.5 1220.3L1282.6 1221.7L1283.7 1223.1L1284.8 1224.7L1285.7 1226.2L1286.5 1227.7L1287.4 1229.3L1288.2 1230.9L1289.1 1232.4L1290.1 1234.0L1291.2 1235.4L1292.3 1236.6L1293.3 1237.5L1294.2 1237.4L1295.0 1235.9L1295.5 1233.6L1295.9 1230.7L1296.0 1229.2L1296.2 1227.6L1296.3 1226.0L1296.4 1224.4L1296.5 1222.8L1296.6 1221.2L1296.8 1219.5L1296.9 1217.9L1297.0 1216.3L1297.1 1214.6L1297.2 1213.0L1297.3 1211.5L1297.5 1209.9L1297.6 1208.4L1297.7 1206.7L1297.9 1205.1L1298.0 1203.5L1298.2 1201.9L1298.3 1200.4L1298.4 1198.8L1298.6 1197.3L1298.7 1195.8L1298.9 1194.3L1299.1 1192.8L1299.3 1191.3L1299.8 1188.4L1300.4 1186.5L1301.0 1187.0L1301.3 1188.5L1301.7 1190.0L1302.0 1191.6L1302.3 1193.2L1302.6 1194.8L1303.0 1196.5L1303.3 1198.1L1303.6 1199.8L1303.9 1201.3L1304.2 1202.8L1304.5 1204.4L1304.7 1205.9L1305.0 1207.4L1305.3 1208.9L1305.6 1210.5L1305.9 1212.0L1306.2 1213.5L1306.7 1215.6L1307.4 1217.6L1308.1 1219.3L1308.8 1220.5L1309.6 1221.2L1310.4 1220.9L1311.3 1219.5L1312.2 1217.5L1313.0 1215.2L1313.5 1213.7L1313.9 1212.2L1314.4 1210.7L1314.8 1209.1L1315.2 1207.6L1315.6 1206.0L1316.1 1204.5L1316.7 1203.0L1317.3 1201.5L1318.2 1199.7L1319.0 1197.9L1319.9 1196.3L1320.8 1194.9L1321.6 1193.9L1322.5 1193.3L1323.6 1193.5L1324.6 1194.7L1325.7 1196.3L1326.7 1198.1L1327.4 1199.5L1327.9 1201.2L1328.4 1203.0L1328.8 1204.7L1329.2 1206.3L1329.8 1207.6L1330.5 1208.4L1332.4 1208.8L1334.4 1208.4L1336.2 1207.6L1337.9 1207.0L1338.6 1207.5L1339.2 1208.8L1339.8 1210.5L1340.3 1212.5L1340.8 1214.4L1341.4 1216.0L1342.1 1217.0L1343.4 1217.5L1345.1 1217.6L1346.8 1217.8L1348.1 1218.7L1349.0 1220.0L1349.9 1221.3L1350.7 1222.7L1351.6 1224.1L1352.4 1225.5L1353.3 1227.0L1354.1 1228.6L1355.0 1230.1L1355.8 1231.7L1356.7 1233.2L1358.0 1235.1L1359.5 1236.5L1361.0 1237.2L1362.3 1237.0L1363.7 1236.2L1365.0 1234.9L1366.1 1233.2L1366.9 1231.7L1367.6 1230.1L1368.3 1228.6L1369.0 1227.0L1369.7 1225.4L1370.4 1223.8L1371.0 1222.3L1371.6 1220.9L1372.2 1219.4L1372.8 1217.9L1373.5 1216.4L1374.1 1214.9L1374.7 1213.5L1375.4 1212.1L1376.2 1210.7L1377.0 1209.4L1377.9 1208.2L1378.8 1207.0L1379.8 1205.8L1380.9 1204.5L1382.1 1203.4L1383.3 1202.4L1384.6 1201.5L1385.8 1200.7L1387.3 1200.7L1388.8 1201.7L1390.4 1202.7L1391.8 1202.9L1393.1 1202.0L1393.9 1200.4L1394.4 1198.1L1394.6 1196.7L1394.7 1195.2L1394.8 1193.7L1394.8 1192.1L1394.9 1190.5L1395.0 1188.9L1395.1 1187.3L1395.2 1185.7L1395.4 1184.2L1395.6 1182.7L1396.0 1180.3L1396.5 1177.8L1396.9 1175.7L1397.3 1174.3L1397.8 1174.1L1398.2 1174.8L1398.5 1176.0L1398.9 1177.6L1399.3 1179.4L1399.6 1181.2L1400.0 1182.9L1400.4 1184.4L1401.0 1186.3L1401.6 1188.2L1402.2 1189.9L1402.9 1191.3L1404.3 1191.0L1405.5 1187.8L1405.8 1186.3L1406.0 1184.8L1406.2 1183.3L1406.4 1181.8L1406.6 1180.3L1406.8 1178.8L1407.0 1177.2L1407.1 1175.6L1407.3 1174.0L1407.5 1172.4L1407.6 1170.7L1407.7 1169.1L1407.9 1167.6L1408.0 1166.0L1408.1 1164.4L1408.3 1162.8L1408.4 1161.2L1408.5 1159.7L1408.6 1158.1L1408.8 1156.5L1408.9 1154.9L1409.0 1153.3L1409.2 1151.8L1409.3 1150.2L1409.4 1148.5L1409.6 1146.8L1409.7 1145.1L1409.8 1143.5L1409.9 1142.0L1410.0 1140.4L1410.2 1138.9L1410.4 1137.5L1410.7 1136.1L1411.0 1134.7L1412.0 1133.1L1413.2 1133.0L1414.0 1134.0L1414.9 1136.0L1415.8 1137.8L1416.6 1138.2L1417.2 1137.1L1417.7 1135.5L1418.1 1133.7L1418.6 1131.9L1419.2 1130.5L1420.5 1128.9L1421.8 1127.9L1422.6 1128.5L1423.4 1130.3L1424.1 1132.5L1424.9 1134.2L1425.7 1134.7L1426.5 1133.9L1427.1 1132.5L1427.6 1130.5L1427.8 1127.9L1427.9 1126.4L1428.0 1125.0L1428.0 1123.5L1428.1 1122.0L1428.2 1120.5L1428.2 1119.0L1428.3 1117.4L1428.3 1115.8L1428.4 1114.2L1428.4 1112.6L1428.5 1110.9L1428.5 1109.2L1428.6 1107.4L1428.6 1105.6L1428.6 1104.2L1428.7 1102.7L1428.7 1101.2L1428.7 1099.8L1428.7 1098.3L1428.8 1096.8L1428.8 1095.3L1428.8 1093.7L1428.8 1092.2L1428.9 1090.7L1428.9 1089.1L1428.9 1087.6L1428.9 1086.0L1429.0 1084.4L1429.0 1082.8L1429.0 1081.2L1429.1 1079.6L1429.1 1078.0L1429.1 1076.4L1429.1 1074.7L1429.2 1073.1L1429.2 1071.4L1429.2 1070.1L1429.2 1068.7L1429.3 1067.4L1429.3 1066.0L1429.3 1064.6L1429.3 1063.3L1429.4 1061.9L1429.4 1060.5L1429.4 1059.1L1429.4 1057.6L1429.5 1056.2L1429.5 1054.7L1429.5 1053.3L1429.5 1051.8L1429.5 1050.3L1429.6 1048.8L1429.6 1047.3L1429.6 1045.8L1429.6 1044.3L1429.7 1042.8L1429.7 1041.2L1429.7 1039.6L1429.7 1038.1L1429.8 1036.5L1429.8 1034.9L1429.8 1033.3L1429.8 1031.7L1429.9 1030.0L1429.9 1028.4L1429.9 1026.7L1429.9 1025.1L1430.0 1023.4L1430.0 1021.7L1430.0 1020.0L1430.0 1018.7L1430.0 1017.4L1430.1 1016.1L1430.1 1014.8L1430.1 1013.4L1430.1 1012.1L1430.1 1010.7L1430.1 1009.3L1430.2 1008.0L1430.2 1006.6L1430.2 1005.2L1430.2 1003.7L1430.2 1002.3L1430.3 1000.9L1430.3 999.4L1430.3 998.0L1430.3 996.5L1430.3 995.0L1430.4 993.6L1430.4 992.1L1430.4 990.6L1430.4 989.1L1430.4 987.6L1430.5 986.1L1430.5 984.5L1430.5 983.0L1430.5 981.5L1430.6 979.9L1430.6 978.4L1430.6 976.9L1430.6 975.3L1430.6 973.8L1430.7 972.2L1430.7 970.6L1430.7 969.1L1430.7 967.5L1430.8 965.9L1430.8 964.4L1430.8 962.8L1430.8 961.2L1430.8 959.7L1430.9 958.1L1430.9 956.5L1430.9 954.9L1430.9 953.4L1431.0 951.8L1431.0 950.2L1431.0 948.6L1431.0 947.1L1431.1 945.5L1431.1 943.9L1431.1 942.4L1431.1 940.8L1431.2 939.3L1431.2 937.7L1431.2 936.2L1431.2 934.6L1431.2 933.1L1431.3 931.5L1431.3 930.0L1431.3 928.7L1431.3 927.4L1431.4 926.0L1431.4 924.6L1431.4 923.1L1431.4 921.6L1431.5 920.1L1431.5 918.5L1431.5 916.9L1431.5 915.2L1431.6 913.6L1431.6 911.9L1431.6 910.1L1431.7 908.4L1431.7 906.6L1431.7 904.8L1431.7 903.0L1431.8 901.1L1431.8 899.2L1431.8 897.3L1431.9 895.4L1431.9 893.5L1431.9 891.5L1432.0 889.6L1432.0 887.6L1432.0 885.6L1432.1 883.6L1432.1 881.7L1432.1 879.6L1432.2 877.6L1432.2 875.6L1432.2 873.6L1432.3 871.6L1432.3 869.6L1432.4 867.6L1432.4 865.5L1432.4 863.5L1432.5 861.5L1432.5 859.5L1432.5 857.5L1432.6 855.6L1432.6 853.6L1432.7 851.6L1432.7 849.7L1432.7 847.8L1432.8 845.9L1432.8 844.0L1432.8 842.1L1432.9 840.3L1432.9 838.4L1432.9 836.6L1433.0 834.8L1433.0 833.1L1433.1 831.4L1433.1 829.7L1433.1 828.0L1433.2 826.4L1433.2 824.8L1433.2 823.2L1433.3 821.7L1433.3 820.2L1433.3 818.7L1433.4 817.3L1433.4 815.9L1433.4 814.6L1433.5 813.3L1433.5 812.1L1433.6 810.9L1433.6 809.7L1433.6 808.7L1433.6 807.6L1433.7 806.6L1433.7 805.7L1433.7 804.8L1433.8 804.0L1433.8 803.2L1433.8 802.5L1433.9 801.9L1433.9 801.3L1433.9 800.8L1433.9 800.3L1434.0 799.9L1434.0 799.6L1434.0 799.3L1434.1 799.1L1434.1 799.0L1434.1 799.0L1434.1 799.0L1434.1 799.1L1434.2 799.3L1434.2 799.6L1434.2 799.9L1434.2 800.3L1434.3 800.8L1434.3 801.3L1434.3 801.9L1434.3 802.5L1434.4 803.2L1434.4 804.0L1434.4 804.8L1434.4 805.7L1434.4 806.6L1434.5 807.6L1434.5 808.7L1434.5 809.8L1434.5 810.9L1434.6 812.1L1434.6 813.4L1434.6 814.7L1434.6 816.0L1434.6 817.4L1434.7 818.8L1434.7 820.2L1434.7 821.7L1434.7 823.3L1434.7 824.8L1434.8 826.4L1434.8 828.1L1434.8 829.7L1434.8 831.4L1434.8 833.2L1434.9 834.9L1434.9 836.7L1434.9 838.5L1434.9 840.4L1435.0 842.2L1435.0 844.1L1435.0 846.0L1435.0 847.9L1435.0 849.8L1435.0 851.8L1435.1 853.7L1435.1 855.7L1435.1 857.7L1435.1 859.7L1435.1 861.7L1435.2 863.7L1435.2 865.7L1435.2 867.7L1435.2 869.7L1435.2 871.7L1435.3 873.7L1435.3 875.8L1435.3 877.8L1435.3 879.8L1435.3 881.8L1435.3 883.8L1435.4 885.8L1435.4 887.8L1435.4 889.7L1435.4 891.7L1435.4 893.6L1435.5 895.5L1435.5 897.5L1435.5 899.3L1435.5 901.2L1435.5 903.1L1435.5 904.9L1435.6 906.7L1435.6 908.5L1435.6 910.2L1435.6 912.0L1435.6 913.7L1435.6 915.3L1435.7 917.0L1435.7 918.6L1435.7 920.1L1435.7 921.7L1435.7 923.2L1435.7 924.6L1435.8 926.0L1435.8 927.4L1435.8 928.7L1435.8 930.0L1435.8 931.5L1435.8 933.0L1435.9 934.6L1435.9 936.1L1435.9 937.6L1435.9 939.1L1435.9 940.7L1435.9 942.2L1436.0 943.7L1436.0 945.3L1436.0 946.8L1436.0 948.4L1436.0 949.9L1436.0 951.4L1436.0 953.0L1436.1 954.5L1436.1 956.1L1436.1 957.6L1436.1 959.1L1436.1 960.7L1436.1 962.2L1436.1 963.8L1436.1 965.3L1436.2 966.8L1436.2 968.4L1436.2 969.9L1436.2 971.4L1436.2 973.0L1436.2 974.5L1436.2 976.0L1436.3 977.6L1436.3 979.1L1436.3 980.6L1436.3 982.1L1436.3 983.6L1436.3 985.1L1436.3 986.7L1436.3 988.2L1436.4 989.7L1436.4 991.2L1436.4 992.6L1436.4 994.1L1436.4 995.6L1436.4 997.1L1436.4 998.6L1436.5 1000.0L1436.5 1001.5L1436.5 1003.0L1436.5 1004.4L1436.5 1005.9L1436.5 1007.3L1436.6 1008.7L1436.6 1010.2L1436.6 1011.6L1436.6 1013.0L1436.6 1014.4L1436.6 1015.8L1436.7 1017.2L1436.7 1018.6L1436.7 1020.0L1436.7 1021.6L1436.7 1023.2L1436.8 1024.8L1436.8 1026.4L1436.8 1028.0L1436.8 1029.6L1436.9 1031.2L1436.9 1032.8L1436.9 1034.4L1437.0 1035.9L1437.0 1037.5L1437.0 1039.1L1437.0 1040.7L1437.1 1042.2L1437.1 1043.8L1437.1 1045.4L1437.2 1046.9L1437.2 1048.5L1437.2 1050.1L1437.3 1051.6L1437.3 1053.1L1437.3 1054.7L1437.3 1056.2L1437.4 1057.8L1437.4 1059.3L1437.4 1060.8L1437.5 1062.3L1437.5 1063.8L1437.5 1065.3L1437.6 1066.8L1437.6 1068.3L1437.6 1069.8L1437.7 1071.3L1437.7 1072.8L1437.8 1074.2L1437.8 1075.7L1437.8 1077.1L1437.9 1078.6L1437.9 1080.0L1437.9 1081.5L1438.0 1082.9L1438.0 1084.3L1438.0 1085.7L1438.1 1087.1L1438.1 1088.5L1438.1 1090.1L1438.2 1091.7L1438.2 1093.2L1438.3 1094.8L1438.3 1096.4L1438.4 1097.9L1438.4 1099.5L1438.4 1101.1L1438.5 1102.6L1438.5 1104.1L1438.6 1105.7L1438.6 1107.2L1438.7 1108.7L1438.7 1110.2L1438.8 1111.8L1438.8 1113.3L1438.9 1114.8L1438.9 1116.3L1439.0 1117.8L1439.0 1119.3L1439.1 1120.8L1439.1 1122.3L1439.2 1123.7L1439.3 1125.2L1439.3 1126.7L1439.4 1128.2L1439.4 1129.7L1439.5 1131.1L1439.5 1132.6L1439.6 1134.1L1439.6 1135.5L1439.7 1137.0L1439.7 1138.4L1439.8 1139.9L1439.9 1141.5L1439.9 1143.1L1440.0 1144.7L1440.1 1146.3L1440.1 1147.9L1440.2 1149.5L1440.3 1151.1L1440.4 1152.7L1440.4 1154.2L1440.5 1155.8L1440.6 1157.4L1440.7 1158.9L1440.8 1160.5L1440.8 1162.0L1440.9 1163.5L1441.0 1165.1L1441.1 1166.6L1441.2 1168.1L1441.3 1169.6L1441.4 1171.1L1441.5 1172.6L1441.6 1174.0L1441.7 1175.5L1441.8 1177.0L1442.0 1178.4L1442.1 1179.9L1442.2 1181.3L1442.3 1182.7L1442.5 1184.5L1442.6 1186.2L1442.8 1187.9L1443.0 1189.6L1443.2 1191.2L1443.4 1192.8L1443.6 1194.3L1443.8 1195.8L1444.0 1197.3L1444.2 1198.8L1444.5 1200.2L1444.7 1201.6L1444.9 1203.0L1445.1 1204.4L1445.4 1205.7L1445.6 1207.1L1445.8 1208.4L1446.1 1210.3L1446.4 1212.1L1446.8 1213.8L1447.1 1215.4L1447.5 1217.0L1447.9 1218.5L1448.3 1220.0L1448.7 1221.5L1449.2 1222.9L1450.0 1225.0L1451.1 1226.7L1452.2 1227.9L1453.5 1228.1L1454.8 1227.6L1456.1 1226.8L1457.4 1225.8L1458.6 1224.7L1459.9 1223.4L1461.2 1222.0L1462.4 1220.7L1463.7 1219.5L1465.4 1218.6L1467.2 1218.7L1468.6 1219.2L1470.1 1220.0L1471.5 1221.2L1472.6 1222.4L1473.5 1223.8L1474.5 1225.4L1475.5 1226.8L1476.6 1228.1L1477.9 1229.1L1479.3 1229.9L1480.8 1230.3L1482.2 1230.3L1483.6 1229.8L1485.0 1228.9L1486.4 1227.8L1487.7 1226.4L1488.8 1225.1L1489.8 1223.7L1490.7 1222.3L1491.4 1220.6L1492.0 1218.7L1492.4 1217.3L1492.7 1215.8L1493.1 1214.3L1493.4 1212.8L1493.7 1211.3L1494.1 1209.7L1494.4 1208.1L1494.7 1206.5L1495.1 1204.9L1495.4 1203.3L1495.7 1201.8L1496.0 1200.3L1496.3 1198.7L1496.5 1197.1L1496.8 1195.5L1497.1 1193.9L1497.4 1192.2L1497.7 1190.6L1497.9 1189.0L1498.2 1187.5L1498.6 1185.9L1498.9 1184.4L1499.6 1182.2L1500.4 1180.6L1501.4 1179.7L1502.3 1179.3L1503.5 1179.6L1504.7 1180.8L1505.7 1182.7L1506.2 1184.1L1506.7 1185.7L1507.1 1187.2L1507.5 1188.8L1507.9 1190.3L1508.3 1191.8L1508.7 1193.3L1509.1 1194.7L1509.6 1196.3L1510.2 1198.0L1510.7 1199.6L1511.3 1201.2L1511.9 1202.7L1512.6 1204.1L1513.4 1205.3L1514.4 1206.5L1515.5 1207.6L1516.6 1208.7L1517.6 1209.8L1518.5 1211.0L1519.4 1212.5L1520.2 1214.0L1521.1 1215.6L1522.0 1217.1L1522.8 1218.7L1523.5 1220.1L1524.2 1221.5L1524.9 1222.9L1525.6 1224.4L1526.3 1225.8L1527.1 1227.2L1528.6 1228.9L1530.4 1229.8L1532.3 1229.8L1533.8 1229.3L1535.3 1228.7L1536.7 1228.0L1538.2 1227.2L1539.7 1226.2L1541.0 1225.1L1542.5 1224.1L1544.1 1223.6L1546.0 1223.3L1547.9 1223.0L1549.4 1222.2L1550.5 1221.2L1551.5 1220.0L1552.5 1218.8L1553.5 1217.6L1554.5 1216.5L1555.6 1215.2L1556.6 1214.0L1557.7 1212.9L1558.8 1211.8L1560.2 1212.3L1561.6 1214.3L1563.1 1215.2L1564.5 1214.7L1566.0 1214.1L1567.4 1213.5L1568.9 1212.8L1570.3 1212.1L1571.7 1211.5L1573.5 1212.2L1575.1 1214.4L1576.0 1215.7L1576.8 1217.1L1577.6 1218.5L1578.5 1220.0L1579.4 1221.2L1580.9 1222.5L1582.5 1223.4L1584.2 1223.8L1585.6 1223.7L1587.0 1223.3L1588.4 1222.5L1589.7 1221.2L1590.6 1219.8L1591.3 1218.3L1591.9 1216.6L1592.5 1214.9L1593.1 1213.3L1593.9 1211.8L1595.0 1209.9L1596.1 1208.1L1597.2 1206.8L1598.2 1206.7L1599.1 1207.5L1600.0 1208.8L1600.8 1210.3L1601.7 1211.8L1602.5 1213.2L1603.4 1214.6L1604.2 1216.0L1605.0 1217.4L1605.9 1218.7L1607.6 1220.4L1609.4 1221.2L1610.8 1221.1L1612.3 1220.3L1613.6 1218.7L1614.2 1217.2L1614.7 1215.7L1615.0 1214.0L1615.2 1212.2L1615.3 1210.4L1615.4 1208.4L1615.5 1207.0L1615.5 1205.7L1615.6 1204.4L1615.7 1203.0L1615.8 1201.7L1615.8 1200.2L1615.9 1198.7L1616.0 1197.1L1616.0 1195.3L1616.1 1193.4L1616.2 1191.3L1616.3 1189.7L1616.3 1188.2L1616.4 1186.6L1616.5 1185.1L1616.5 1183.5L1616.6 1182.0L1616.7 1180.4L1616.8 1178.8L1616.8 1177.3L1616.9 1175.7L1617.0 1174.2L1617.1 1172.6L1617.1 1171.0L1617.2 1169.5L1617.3 1167.9L1617.3 1166.4L1617.4 1164.8L1617.4 1163.2L1617.5 1161.7L1617.5 1160.1L1617.6 1158.6L1617.6 1157.0L1617.6 1155.4L1617.7 1153.9L1617.7 1152.3L1617.7 1150.8L1617.8 1149.2L1617.8 1147.7L1617.8 1146.1L1617.9 1144.6L1617.9 1143.0L1617.9 1141.5L1618.0 1139.9L1618.0 1138.3L1618.0 1136.8L1618.0 1135.2L1618.1 1133.7L1618.1 1132.1L1618.1 1130.6L1618.2 1129.0L1618.2 1127.5L1618.2 1125.9L1618.3 1124.4L1618.3 1122.8L1618.3 1121.2L1618.4 1119.7L1618.4 1118.1L1618.4 1116.6L1618.5 1115.0L1618.5 1113.5L1618.5 1111.9L1618.6 1110.3L1618.6 1108.8L1618.6 1107.2L1618.7 1105.7L1618.7 1104.1L1618.7 1102.5L1618.7 1101.0L1618.8 1099.4L1618.8 1097.9L1618.8 1096.3L1618.9 1094.7L1618.9 1093.2L1618.9 1091.6L1619.0 1090.1L1619.0 1088.5L1619.0 1086.9L1619.1 1085.3L1619.1 1083.7L1619.1 1082.2L1619.2 1080.6L1619.2 1079.0L1619.3 1077.5L1619.3 1075.9L1619.3 1074.3L1619.4 1072.8L1619.4 1071.2L1619.5 1069.7L1619.5 1068.1L1619.6 1066.6L1619.6 1065.1L1619.7 1063.6L1619.7 1062.0L1619.7 1060.5L1619.8 1059.0L1619.8 1057.5L1619.9 1056.0L1620.1 1053.5L1620.4 1051.8L1620.7 1050.5L1621.1 1049.3L1621.4 1047.9L1621.6 1046.0L1621.7 1044.7L1621.7 1043.4L1621.8 1042.1L1621.8 1040.8L1621.9 1039.4L1621.9 1038.1L1622.0 1036.7L1622.0 1035.2L1622.0 1033.8L1622.1 1032.3L1622.1 1030.7L1622.1 1029.1L1622.1 1027.4L1622.2 1025.7L1622.2 1023.9L1622.2 1022.0L1622.2 1020.0L1622.2 1018.5L1622.2 1017.0L1622.2 1015.5L1622.2 1014.0L1622.2 1012.5L1622.2 1011.0L1622.2 1009.5L1622.2 1008.0L1622.2 1006.5L1622.2 1005.0L1622.2 1003.5L1622.2 1002.0L1622.2 1000.5L1622.2 999.0L1622.2 997.5L1622.2 996.0L1622.2 994.5L1622.2 993.0L1622.2 991.5L1622.2 990.0L1622.2 988.5L1622.2 987.0L1622.2 985.5L1622.2 984.0L1622.2 982.5L1622.2 981.0L1622.2 979.5L1622.3 978.0L1622.3 976.5L1622.3 975.0L1622.3 973.5L1622.3 972.0L1622.4 970.5L1622.4 969.0L1622.4 967.5L1622.4 966.0L1622.5 964.5L1622.5 963.0L1622.5 961.5L1622.5 960.0L1622.6 958.5L1622.6 957.0L1622.6 955.5L1622.6 954.0L1622.6 952.5L1622.7 951.0L1622.7 949.5L1622.7 948.0L1622.7 946.5L1622.8 945.0L1622.8 943.5L1622.8 942.0L1622.8 940.5L1622.9 939.0L1622.9 937.5L1622.9 936.0L1622.9 934.5L1623.0 933.0L1623.0 931.5L1623.0 930.0L1623.0 928.2L1623.1 926.4L1623.1 924.7L1623.1 923.0L1623.1 921.3L1623.2 919.7L1623.2 918.1L1623.2 916.5L1623.3 915.0L1623.3 913.4L1623.3 911.9L1623.3 910.4L1623.4 908.9L1623.4 907.5L1623.4 906.0L1623.5 904.6L1623.5 903.2L1623.5 901.8L1623.5 900.4L1623.6 899.0L1623.6 897.6L1624.0 896.2L1624.4 897.6L1624.4 898.9L1624.4 900.2L1624.5 901.5L1624.5 902.8L1624.5 904.2L1624.5 905.6L1624.5 907.0L1624.5 908.5L1624.5 909.9L1624.5 911.4L1624.5 912.9L1624.5 914.4L1624.5 915.9L1624.5 917.5L1624.6 919.0L1624.6 920.6L1624.6 922.2L1624.6 923.8L1624.6 925.4L1624.6 927.0L1624.6 928.6L1624.6 930.2L1624.6 931.8L1624.6 933.5L1624.6 935.1L1624.6 936.7L1624.5 938.4L1624.5 940.0L1624.5 941.6L1624.5 943.3L1624.5 944.9L1624.5 946.5L1624.5 948.1L1624.5 949.7L1624.5 951.3L1624.6 952.9L1624.6 954.5L1624.6 956.1L1624.6 957.6L1624.6 959.2L1624.6 960.7L1624.6 962.2L1624.6 963.7L1624.6 965.2L1624.6 966.7L1624.6 968.1L1624.6 969.5L1624.6 970.9L1624.7 972.3L1624.7 973.7L1624.7 975.0L1624.7 976.5L1624.7 978.1L1624.8 979.6L1624.8 981.1L1624.8 982.7L1624.8 984.2L1624.9 985.7L1624.9 987.3L1624.9 988.8L1624.9 990.3L1625.0 991.9L1625.0 993.4L1625.0 995.0L1625.0 996.5L1625.1 998.0L1625.1 999.6L1625.1 1001.1L1625.1 1002.6L1625.2 1004.2L1625.2 1005.7L1625.2 1007.2L1625.2 1008.8L1625.3 1010.3L1625.3 1011.8L1625.3 1013.3L1625.3 1014.9L1625.4 1016.4L1625.4 1017.9L1625.4 1019.4L1625.4 1021.0L1625.4 1022.5L1625.5 1024.0L1625.5 1025.5L1625.5 1027.0L1625.5 1028.5L1625.6 1030.0L1625.6 1031.5L1625.6 1033.0L1625.6 1034.5L1625.6 1036.0L1625.7 1037.5L1625.7 1039.0L1625.7 1040.5L1625.7 1042.0L1625.7 1043.5L1625.8 1045.0L1625.8 1046.5L1625.8 1048.0L1625.8 1049.5L1625.8 1051.0L1625.9 1052.5L1625.9 1054.0L1625.9 1055.5L1625.9 1057.0L1625.9 1058.5L1625.9 1060.0L1626.0 1061.5L1626.0 1063.0L1626.0 1064.5L1626.0 1066.0L1626.0 1067.5L1626.1 1069.0L1626.1 1070.5L1626.1 1072.0L1626.1 1073.5L1626.1 1075.0L1626.1 1076.5L1626.2 1078.0L1626.2 1079.5L1626.2 1081.0L1626.2 1082.5L1626.2 1084.0L1626.3 1085.5L1626.3 1087.0L1626.3 1088.5L1626.3 1090.0L1626.3 1091.5L1626.4 1093.1L1626.4 1094.6L1626.4 1096.1L1626.4 1097.6L1626.4 1099.2L1626.5 1100.7L1626.5 1102.2L1626.5 1103.8L1626.5 1105.3L1626.5 1106.8L1626.6 1108.4L1626.6 1109.9L1626.6 1111.4L1626.6 1113.0L1626.6 1114.5L1626.7 1116.0L1626.7 1117.6L1626.7 1119.1L1626.7 1120.6L1626.8 1122.2L1626.8 1123.7L1626.8 1125.2L1626.8 1126.8L1626.9 1128.3L1626.9 1129.8L1626.9 1131.4L1627.0 1132.9L1627.0 1134.4L1627.0 1135.9L1627.1 1137.4L1627.1 1139.0L1627.2 1140.5L1627.2 1142.0L1627.3 1143.5L1627.3 1145.0L1627.4 1146.8L1627.4 1148.6L1627.5 1150.3L1627.5 1152.0L1627.6 1153.6L1627.7 1155.2L1627.8 1156.8L1627.8 1158.4L1627.9 1159.9L1628.0 1161.4L1628.0 1162.9L1628.1 1164.4L1628.2 1165.8L1628.3 1167.2L1628.3 1168.7L1628.4 1170.1L1628.5 1171.5L1628.6 1172.9L1628.6 1174.3L1628.7 1175.7L1628.8 1177.1L1628.9 1178.5L1629.0 1179.9L1629.0 1181.3L1629.1 1182.7L1629.2 1184.3L1629.3 1186.0L1629.4 1187.6L1629.4 1189.3L1629.5 1190.9L1629.6 1192.5L1629.7 1194.1L1629.8 1195.7L1629.9 1197.2L1630.0 1198.8L1630.1 1200.3L1630.2 1201.8L1630.2 1203.3L1630.3 1204.8L1630.4 1206.3L1630.5 1207.7L1630.6 1209.1L1630.7 1210.5L1630.8 1211.8L1631.0 1213.7L1631.2 1215.4L1631.4 1217.1L1631.7 1218.6L1631.9 1220.1L1632.3 1221.5L1632.6 1222.9L1632.9 1224.2L1633.3 1225.5L1633.9 1227.2L1634.5 1228.9L1635.2 1230.4L1636.0 1231.9L1636.8 1233.2L1638.0 1234.7L1639.4 1235.9L1641.0 1236.6L1642.5 1236.9L1644.1 1236.9L1645.9 1236.8L1647.9 1236.6L1649.3 1236.4L1650.8 1236.0L1652.4 1235.7L1653.9 1235.2L1655.5 1234.8L1657.0 1234.5L1658.5 1234.2L1659.9 1234.1L1661.6 1234.2L1663.3 1234.5L1665.0 1234.9L1666.6 1235.3L1668.4 1235.4L1670.1 1235.4L1671.8 1235.3L1673.6 1235.2L1675.4 1235.0L1677.1 1234.7L1678.7 1234.4L1680.2 1234.0L1681.6 1233.5L1683.0 1233.0L1684.5 1232.4L1685.9 1231.9L1687.3 1231.5L1688.9 1231.1L1690.4 1230.7L1692.0 1230.4L1693.5 1230.3L1695.0 1230.3L1696.6 1230.6L1698.0 1231.1L1699.4 1231.7L1701.0 1232.4L1702.4 1233.0L1703.9 1233.7L1705.3 1234.5L1706.7 1235.3L1708.2 1236.0L1709.6 1236.6L1711.1 1237.1L1712.7 1237.3L1714.2 1237.2L1715.8 1236.8L1717.3 1236.1L1718.6 1235.1L1719.4 1233.9L1719.9 1232.5L1720.3 1230.8L1720.7 1228.8L1721.0 1227.4L1721.2 1226.0L1721.5 1224.5L1721.7 1222.9L1721.9 1221.3L1722.1 1219.7L1722.3 1218.1L1722.6 1216.5L1722.9 1214.9L1723.3 1213.4L1723.9 1211.5L1724.5 1209.2L1725.2 1207.2L1725.8 1205.7L1726.4 1204.7L1727.0 1204.6L1727.5 1205.5L1728.0 1206.6L1728.6 1208.2L1729.1 1209.9L1729.6 1211.8L1730.1 1213.5L1730.5 1215.1L1731.0 1216.6L1731.4 1218.0L1731.8 1219.5L1732.2 1221.0L1732.6 1222.5L1733.1 1224.0L1733.5 1225.5L1734.1 1227.2L1734.8 1228.6L1735.6 1230.1L1736.6 1231.4L1737.6 1232.7L1738.7 1234.2L1740.2 1235.6L1741.7 1236.7L1743.2 1237.5L1744.7 1237.9L1745.9 1237.5L1747.2 1237.2L1748.4 1235.9L1749.6 1234.9L1750.7 1233.3L1751.5 1231.5L1752.2 1230.1L1752.8 1228.4L1753.3 1226.9L1753.7 1225.1L1754.3 1223.5L1754.9 1222.0L1755.5 1220.8L1756.2 1219.0L1756.9 1217.6L1757.5 1216.1L1758.2 1214.5L1758.8 1212.9L1759.5 1211.5L1760.1 1210.4L1760.7 1210.0L1761.4 1210.4L1762.0 1212.1L1762.6 1214.2L1763.2 1216.5L1763.8 1218.4L1764.4 1220.6L1764.9 1221.7L1765.4 1223.3L1765.9 1224.9L1766.4 1226.6L1766.8 1227.9L1767.4 1229.6L1767.9 1231.0L1768.6 1232.3L1769.6 1234.3L1770.8 1236.1L1772.0 1237.4L1773.3 1238.1L1774.6 1237.9L1775.7 1237.0L1776.9 1235.5L1778.1 1234.4L1779.2 1233.8L1780.4 1232.6L1781.5 1231.5L1782.7 1230.1L1783.9 1229.1L1785.0 1228.0L1786.2 1226.6L1787.5 1225.5L1788.9 1224.8L1790.5 1225.8L1792.0 1226.4L1793.6 1227.9L1795.2 1229.1L1796.6 1229.3L1798.0 1230.2L1799.4 1230.9L1800.8 1231.3L1802.2 1232.0L1803.7 1232.2L1805.1 1232.8L1806.5 1233.0L1808.1 1233.7L1809.7 1233.7L1811.3 1234.0L1812.9 1234.6L1814.4 1234.8L1815.7 1235.2L1817.2 1235.4L1818.6 1236.0L1820.0 1236.8L1821.4 1237.3L1822.9 1237.8L1824.3 1238.3L1826.0 1238.4L1827.8 1238.6L1829.5 1238.8L1831.3 1238.3L1832.9 1237.3L1834.4 1236.2L1835.8 1234.9L1837.0 1233.5L1838.3 1232.4L1839.7 1231.7L1841.0 1230.9L1842.4 1229.6L1843.8 1229.2L1845.2 1228.7L1846.6 1228.3L1847.9 1228.4L1849.3 1229.1L1850.7 1229.5L1852.1 1230.7L1853.6 1231.0L1855.1 1231.5L1856.8 1231.8L1858.5 1231.7L1860.2 1231.3L1862.0 1232.0L1863.7 1231.7L1865.4 1231.6L1867.2 1231.0L1869.0 1231.5L1870.7 1231.2L1872.4 1231.5L1873.8 1231.1L1875.0 1230.9L1876.1 1229.8L1877.3 1228.8L1878.4 1227.0L1879.6 1226.0L1880.7 1225.1L1882.1 1224.0L1883.6 1222.4L1885.0 1222.1L1886.5 1221.7L1888.1 1221.7L1889.9 1222.7L1891.7 1223.7L1893.4 1224.2L1894.8 1225.2L1896.3 1225.9L1897.7 1227.9L1899.0 1229.1L1900.3 1229.4L1902.3 1230.2L1904.3 1230.2L1906.4 1229.2L1908.4 1227.8L1909.6 1229.4L1910.7 1230.7L1911.8 1232.4L1913.0 1233.3L1914.4 1234.3L1916.1 1235.2L1917.8 1235.4L1919.3 1235.4L1921.1 1233.8L1922.8 1233.2L1924.5 1232.7L1926.0 1232.0L1927.5 1230.3L1929.1 1230.2L1931.0 1230.0L1932.9 1229.5L1934.8 1230.5L1936.4 1230.5L1937.9 1230.7L1939.4 1231.2L1941.4 1230.9L1943.5 1230.0L1945.2 1230.3L1947.0 1230.7L1948.7 1232.2L1950.0 1233.1L1951.3 1234.4L1952.6 1235.4L1953.8 1235.9L1954.8 1238.1L1955.7 1237.9L1956.7 1239.8L1957.9 1240.6L1959.5 1241.2L1961.2 1240.6L1963.0 1241.4L1964.8 1240.7L1966.4 1240.5L1968.0 1242.0L1969.6 1241.7L1971.2 1242.9L1972.8 1242.9L1974.5 1243.3L1976.3 1243.6L1978.0 1243.1L1979.7 1242.5L1981.0 1243.6L1982.4 1244.0L1983.7 1244.4L1985.1 1244.8L1986.4 1246.3L1987.8 1246.7L1989.4 1247.7L1991.0 1247.9L1992.7 1247.4L1994.3 1246.9L1995.9 1247.9L1997.8 1246.0L1999.4 1245.6L2001.0 1246.2L2002.3 1247.0L2003.5 1247.4L2005.1 1249.1L2006.8 1249.9L2008.5 1249.2L2010.3 1249.4L2012.0 1249.0L2013.7 1249.0L2015.5 1250.0L2017.2 1248.6L2018.9 1249.2L2020.5 1248.2L2021.9 1246.2L2023.2 1244.1L2024.6 1244.7L2026.4 1244.0L2028.4 1244.4L2030.4 1244.6L2031.8 1245.7L2033.5 1244.8L2035.3 1244.3L2037.2 1244.5L2039.0 1243.7L2040.6 1244.3L2041.9 1243.7L2043.4 1242.6L2044.8 1242.2L2046.2 1241.1L2047.7 1238.8L2049.6 1239.6L2051.5 1239.0L2053.4 1241.8L2054.8 1241.9L2056.1 1240.9L2057.5 1241.9L2058.9 1242.2L2060.3 1245.5L2062.0 1243.3L2063.7 1244.5L2065.5 1244.2L2067.2 1244.8L2069.2 1244.7L2071.1 1245.2L2073.0 1243.0" stroke="#0000ff" stroke-width="6.6" fill="none" stroke-linejoin="round" stroke-linecap="round"/>
<path d="M246.3 754.6L246.5 757.6L246.6 760.6L246.8 763.6L247.0 766.6L247.1 769.6L247.3 772.6L247.5 775.6L247.6 778.6L247.8 781.6L247.9 784.6L248.1 787.6L248.3 790.6L248.4 793.6L248.6 796.6L248.7 799.6L248.8 802.6L249.0 805.6L249.1 808.6L249.3 811.6L249.4 814.6L249.5 817.6L249.6 820.6L249.8 823.6L249.9 826.6L250.0 829.6L250.1 832.6L250.3 835.6L250.4 838.6L250.5 841.6L250.7 844.6L250.8 847.6L251.0 850.6L251.1 853.6L251.2 856.6L251.4 859.6L251.5 862.6L251.7 865.6L251.8 868.6L252.0 871.6L252.2 874.6L252.3 877.6L252.5 880.6L252.7 883.6L252.9 886.6L253.2 889.6L253.4 892.6L253.6 895.6L253.8 898.6L254.0 901.6L254.3 904.6L254.5 907.6L254.7 910.6L254.9 913.6L255.1 916.6L255.3 919.6L255.5 922.6L255.7 925.6L255.9 928.6L256.2 931.6L256.4 934.6L256.7 937.6L256.9 940.6L257.2 943.6L257.5 946.6L257.8 949.6L258.2 952.6L258.6 955.6L259.0 958.6L259.5 961.6L259.9 964.6L260.4 967.6L260.8 970.6L261.3 973.6L261.8 976.6L262.2 979.6L262.7 982.6L263.1 985.6L263.5 988.6L263.9 991.6L264.2 994.6L264.6 997.6L264.9 1000.6L265.3 1003.6L265.6 1006.6L266.0 1009.6L266.4 1012.6L266.8 1015.6L267.2 1018.6L267.7 1021.6L268.0 1023.8L268.4 1026.1L268.5 1028.3L269.4 1030.7L269.6 1032.5L270.0 1034.9L270.1 1037.5L270.1 1039.6L270.4 1041.6L271.3 1043.1L272.0 1045.8L272.2 1049.0L272.0 1049.0L272.4 1052.9L272.5 1053.6L274.3 1057.3L273.6 1060.3L273.7 1061.8L273.7 1063.2L275.6 1067.2L276.2 1067.3L275.8 1069.2L274.9 1072.2L277.4 1076.0L277.5 1078.7L276.5 1077.2L277.5 1079.9L277.2 1082.8L279.1 1085.4L278.6 1089.3L281.4 1089.6L278.8 1089.7L282.1 1091.9L282.1 1096.8L282.0 1105.0L282.8 1098.0L283.6 1099.2L284.4 1111.9L285.2 1108.5L286.0 1115.9L286.8 1113.5L287.6 1118.7L288.4 1122.9L289.2 1124.9L290.0 1129.4L290.8 1121.9L291.6 1132.5L292.4 1136.3L293.2 1129.7L294.0 1136.9L294.8 1142.8L295.6 1137.6L296.4 1134.1L297.2 1134.5L298.0 1141.0L298.8 1133.9L299.6 1149.6L300.4 1149.4L301.2 1149.2L302.0 1153.6L302.8 1152.5L303.6 1151.3L304.4 1155.6L305.2 1154.2L306.0 1162.6L306.8 1160.1L307.6 1151.7L308.4 1163.8L309.2 1161.5L310.0 1162.4L310.8 1163.4L311.6 1156.6L312.4 1165.6L313.2 1165.8L314.0 1162.8L314.8 1164.6L315.6 1165.1L316.4 1159.0L317.2 1164.0L318.0 1152.3L318.8 1152.6L319.6 1129.6L320.4 1103.8L321.2 1076.1L321.6 1061.7L322.0 1076.2L322.8 1104.4L323.6 1131.4L324.4 1156.0L325.2 1164.4L326.0 1159.4L326.8 1165.3L327.6 1164.2L328.4 1164.5L329.2 1164.1L330.0 1176.6L330.8 1171.6L331.6 1174.2L332.4 1176.7L333.2 1181.3L334.0 1164.5L334.8 1174.4L335.6 1177.4L336.4 1170.4L337.2 1174.2L338.0 1169.3L338.8 1172.9L339.6 1177.1L340.4 1173.3L341.2 1177.6L342.0 1190.5L342.8 1185.2L343.6 1184.7L344.4 1192.8L345.2 1186.6L346.0 1194.8L346.8 1189.5L347.6 1193.2L348.4 1181.5L349.2 1191.4L350.0 1194.7L350.8 1182.0L351.6 1196.8L352.4 1184.1L353.2 1191.0L354.0 1187.3L354.8 1193.7L355.6 1196.4L356.4 1187.7L357.2 1203.1L358.0 1192.4L358.8 1192.6L359.6 1194.3L360.4 1192.8L361.2 1194.0L362.0 1201.1L362.8 1199.3L363.6 1194.4L364.4 1201.8L365.2 1193.4L366.0 1187.4L366.8 1191.6L367.6 1189.3L368.4 1192.4L369.2 1203.2L370.0 1197.7L370.8 1207.1L371.6 1205.0L372.4 1194.0L373.2 1211.2L374.0 1210.6L374.8 1194.5L375.6 1207.7L376.4 1199.6L377.2 1201.2L378.0 1210.4L378.8 1198.4L379.6 1204.2L380.4 1212.4L381.2 1209.0L382.0 1204.7L382.8 1213.5L383.6 1211.0L384.4 1207.9L385.2 1200.1L386.0 1208.9L386.8 1205.0L387.6 1199.7L388.4 1197.2L389.2 1206.1L390.0 1199.9L390.8 1205.5L391.6 1208.5L392.4 1203.9L393.2 1200.9L394.0 1208.1L394.8 1207.0L395.6 1213.8L396.4 1210.3L397.2 1219.0L398.0 1218.7L398.8 1214.9L399.6 1206.4L400.4 1204.6L401.2 1218.5L402.0 1217.0L402.8 1214.2L403.6 1208.4L404.4 1205.4L405.2 1212.2L406.0 1211.4L406.8 1213.0L407.6 1213.5L408.4 1215.2L409.2 1205.2L410.0 1205.8L410.8 1218.2L411.6 1217.1L412.4 1216.9L413.2 1202.6L414.0 1203.3L414.8 1208.3L415.6 1212.7L416.4 1217.2L417.2 1208.0L418.0 1213.7L418.8 1203.5L419.6 1202.9L420.4 1213.9L421.2 1213.1L422.0 1212.9L422.8 1194.0L423.6 1170.9L424.4 1146.0L425.2 1119.8L425.3 1116.5L426.0 1139.6L426.8 1164.8L427.6 1188.3L428.4 1200.7L429.2 1212.6L430.0 1210.3L430.8 1213.7L431.6 1204.4L432.4 1208.3L433.2 1205.7L434.0 1215.4L434.8 1208.4L435.6 1214.0L436.4 1219.9L437.2 1208.0L438.0 1211.3L438.8 1214.5L439.6 1216.4L440.4 1206.7L441.2 1205.4L442.0 1201.9L442.8 1216.3L443.6 1201.5L444.4 1198.4L445.2 1203.5L446.0 1201.0L446.8 1205.4L447.6 1199.9L448.4 1207.9L449.2 1194.3L450.0 1195.5L450.8 1203.7L451.6 1195.0L452.4 1200.3L453.2 1209.0L454.0 1210.9L454.8 1206.4L455.6 1205.3L456.4 1208.6L457.2 1214.6L458.0 1209.2L458.8 1205.9L459.6 1217.1L460.4 1215.9L461.2 1223.8L462.0 1226.0L462.8 1226.7L463.6 1219.9L464.4 1227.3L465.2 1219.5L466.0 1220.5L466.8 1222.8L467.6 1232.5L468.4 1231.8L469.2 1220.7L470.0 1222.9L470.8 1223.7L471.6 1224.2L472.4 1224.5L473.2 1222.9L474.0 1218.1L474.8 1224.0L475.6 1228.7L476.4 1225.0L477.2 1229.6L478.0 1222.3L478.8 1213.2L479.6 1222.7L480.4 1225.2L481.2 1215.7L482.0 1212.2L482.8 1222.4L483.6 1224.5L484.4 1225.5L485.2 1231.9L486.0 1225.8L486.8 1228.3L487.6 1216.5L488.4 1225.6L489.2 1229.6L490.0 1216.9L490.8 1216.3L491.6 1227.1L492.4 1229.3L493.2 1214.7L494.0 1223.8L494.8 1215.8L495.6 1226.5L496.4 1224.4L497.2 1216.3L498.0 1214.7L498.8 1223.6L499.6 1218.5L500.4 1221.9L501.2 1215.5L502.0 1216.2L502.8 1230.0L503.6 1228.0L504.4 1227.9L505.2 1230.0L506.0 1233.2L506.8 1232.8L507.6 1236.1L508.4 1226.8L509.2 1231.7L510.0 1226.8L510.8 1229.6L511.6 1230.1L512.4 1232.0L513.2 1232.9L514.0 1234.1L514.8 1228.7L515.6 1226.2L516.4 1228.0L517.2 1228.0L518.0 1220.9L518.8 1220.4L519.6 1215.3L520.4 1224.9L521.2 1227.9L522.0 1216.2L522.8 1212.7L523.6 1214.4L524.4 1219.2L525.2 1217.3L526.0 1229.2L526.8 1213.7L527.6 1208.5L528.4 1196.7L529.2 1184.1L529.6 1177.4L530.0 1184.1L530.8 1197.4L531.7 1222.0L532.6 1246.5L534.3 1229.0L533.9 1220.0L532.8 1212.0" stroke="#ff0000" stroke-width="6.5" fill="none" stroke-linejoin="round" stroke-linecap="butt"/>
<rect x="236.5" y="18" width="1846.5" height="1246.9" fill="none" stroke="#000" stroke-width="6.5"/>
<text transform="translate(230.5,119.8) scale(1,1.045)" font-size="46" text-anchor="end">2</text>
<text transform="translate(230.5,555.8) scale(1,1.045)" font-size="46" text-anchor="end">2</text>
<text transform="translate(230.5,424.5) scale(1,1.045)" font-size="46" text-anchor="end">4</text>
<text transform="translate(230.5,347.7) scale(1,1.045)" font-size="46" text-anchor="end">6</text>
<text transform="translate(230.5,293.3) scale(1,1.045)" font-size="46" text-anchor="end">8</text>
<text transform="translate(230.5,991.8) scale(1,1.045)" font-size="46" text-anchor="end">2</text>
<text transform="translate(230.5,860.5) scale(1,1.045)" font-size="46" text-anchor="end">4</text>
<text transform="translate(230.5,783.7) scale(1,1.045)" font-size="46" text-anchor="end">6</text>
<text transform="translate(230.5,729.3) scale(1,1.045)" font-size="46" text-anchor="end">8</text>
<text transform="translate(230.5,1219.7) scale(1,1.045)" font-size="46" text-anchor="end">6</text>
<text transform="translate(230.5,1165.3) scale(1,1.045)" font-size="46" text-anchor="end">8</text>
<text transform="translate(206.0,257.5) scale(1,1.045)" font-size="65" text-anchor="end">1</text>
<text transform="translate(206.0,693.5) scale(1,1.045)" font-size="65" text-anchor="end">0.1</text>
<text transform="translate(206.0,1129.5) scale(1,1.045)" font-size="65" text-anchor="end">0.01</text>
<text transform="translate(504.0,1343.7) scale(1,1.045)" font-size="65" text-anchor="middle">1</text>
<text transform="translate(789.9,1343.7) scale(1,1.045)" font-size="65" text-anchor="middle">2</text>
<text transform="translate(1075.7,1343.7) scale(1,1.045)" font-size="65" text-anchor="middle">3</text>
<text transform="translate(1361.6,1343.7) scale(1,1.045)" font-size="65" text-anchor="middle">4</text>
<text transform="translate(1647.4,1343.7) scale(1,1.045)" font-size="65" text-anchor="middle">5</text>
<text transform="translate(1933.3,1343.7) scale(1,1.045)" font-size="65" text-anchor="middle">6</text>
<text transform="translate(1050.0,1443.2) scale(1,1)" font-size="65" text-anchor="start">s, nm</text>
<text transform="translate(1196.0,1400.3) scale(1,1.045)" font-size="46" text-anchor="start"><tspan dy="2.8">−</tspan><tspan dy="-2.8">1</tspan></text>
<text transform="translate(60.3,761.2) rotate(-90) scale(1,1)" font-size="65" text-anchor="start">Intensity, a.u.</text>
<text transform="translate(308.5,988.7) scale(1,1.045)" font-size="58" text-anchor="start">100</text>
<text transform="translate(400.5,1076.7) scale(1,1.045)" font-size="58" text-anchor="start">200</text>
<text transform="translate(511.3,1152.2) scale(1,1.045)" font-size="58" text-anchor="start">300</text>
<text x="1432.05" y="758" font-size="80" text-anchor="middle" font-weight="bold" fill="#ff0000">*</text>
<text x="1621.05" y="857" font-size="80" text-anchor="middle" font-weight="bold" fill="#ff0000">*</text>
</svg>
</body></html>
